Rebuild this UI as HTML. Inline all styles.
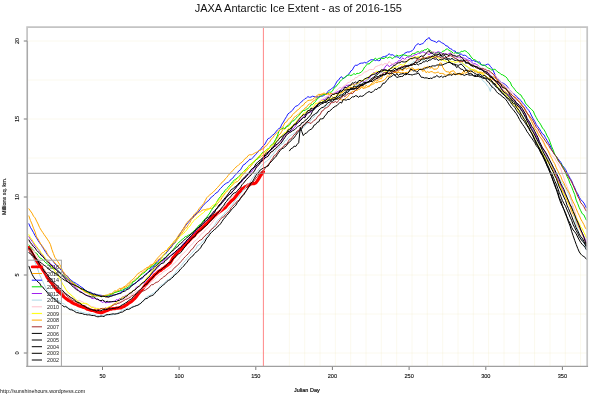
<!DOCTYPE html>
<html lang="en"><head><meta charset="utf-8"><title>JAXA Antarctic Ice Extent</title>
<style>html,body{margin:0;padding:0;background:#fff;}body{width:601px;height:400px;overflow:hidden;font-family:"Liberation Sans",sans-serif;}svg text{font-family:"Liberation Sans",sans-serif;}</style>
</head><body>
<svg width="601" height="400" viewBox="0 0 601 400" style="display:block">
<rect width="601" height="400" fill="#fff"/>
<path d="M289.4,26.5 V366.3 M304.7,26.5 V366.3 M320.0,26.5 V366.3 M335.4,26.5 V366.3 M350.7,26.5 V366.3 M366.0,26.5 V366.3 M381.3,26.5 V366.3 M396.7,26.5 V366.3 M412.0,26.5 V366.3 M427.3,26.5 V366.3 M442.7,26.5 V366.3 M458.0,26.5 V366.3 M473.3,26.5 V366.3 M488.6,26.5 V366.3 M504.0,26.5 V366.3 M519.3,26.5 V366.3 M534.6,26.5 V366.3 M550.0,26.5 V366.3 M565.3,26.5 V366.3 M580.6,26.5 V366.3 M27.5,353.0 H587.2 M27.5,314.0 H587.2 M27.5,275.0 H587.2 M27.5,236.0 H587.2 M27.5,197.0 H587.2 M27.5,158.0 H587.2 M27.5,119.0 H587.2 M27.5,80.0 H587.2 M27.5,41.0 H587.2" fill="none" stroke="#f1ebc4" stroke-width="0.7" stroke-dasharray="1 1" opacity="0.85"/>
<clipPath id="c"><rect x="27.5" y="26.5" width="559.7" height="339.8"/></clipPath>
<g clip-path="url(#c)" fill="none" stroke-linejoin="round" stroke-linecap="round">
<path d="M28.9,247.5 L30.4,250.4 L32.0,253.2 L33.5,255.8 L35.0,258.4 L36.6,261.0 L38.1,263.0 L39.6,265.1 L41.2,267.1 L42.7,269.8 L44.2,271.9 L45.8,274.5 L47.3,277.4 L48.8,279.7 L50.4,281.6 L51.9,283.3 L53.4,285.5 L55.0,287.3 L56.5,289.3 L58.0,291.2 L59.6,292.4 L61.1,293.9 L62.6,295.5 L64.2,297.1 L65.7,298.4 L67.2,299.4 L68.8,300.6 L70.3,301.3 L71.8,302.5 L73.4,303.3 L74.9,304.1 L76.4,304.6 L78.0,305.4 L79.5,305.9 L81.0,306.5 L82.6,307.1 L84.1,307.5 L85.6,308.1 L87.2,309.1 L88.7,309.4 L90.2,310.0 L91.8,310.5 L93.3,310.5 L94.8,311.1 L96.4,311.7 L97.9,312.2 L99.4,312.5 L101.0,312.8 L102.5,312.4 L104.0,311.7 L105.6,311.1 L107.1,310.6 L108.6,309.8 L110.2,308.9 L111.7,309.1 L113.2,308.6 L114.8,308.6 L116.3,308.2 L117.8,308.1 L119.4,307.7 L120.9,307.9 L122.4,306.9 L124.0,306.5 L125.5,305.4 L127.0,304.6 L128.6,303.2 L130.1,302.3 L131.6,301.4 L133.2,299.8 L134.7,298.6 L136.2,296.7 L137.8,294.6 L139.3,292.8 L140.8,291.0 L142.4,289.1 L143.9,287.0 L145.4,284.8 L147.0,283.1 L148.5,281.3 L150.0,279.6 L151.6,278.2 L153.1,276.8 L154.6,274.8 L156.2,273.7 L157.7,272.3 L159.2,271.1 L160.8,270.3 L162.3,268.9 L163.8,268.1 L165.4,266.6 L166.9,265.7 L168.4,264.4 L170.0,263.1 L171.5,260.6 L173.0,257.9 L174.6,256.0 L176.1,254.0 L177.6,252.1 L179.1,250.8 L180.7,249.5 L182.2,248.2 L183.7,246.3 L185.3,244.8 L186.8,242.9 L188.3,241.7 L189.9,239.8 L191.4,238.2 L192.9,236.9 L194.5,235.5 L196.0,233.4 L197.5,232.0 L199.1,230.6 L200.6,229.2 L202.1,228.0 L203.7,226.3 L205.2,224.8 L206.7,223.5 L208.3,221.7 L209.8,220.3 L211.3,218.5 L212.9,217.0 L214.4,215.5 L215.9,214.9 L217.5,213.3 L219.0,212.3 L220.5,211.1 L222.1,210.0 L223.6,208.8 L225.1,207.7 L226.7,205.7 L228.2,204.0 L229.7,202.6 L231.3,200.9 L232.8,199.8 L234.3,198.3 L235.9,196.2 L237.4,194.3 L238.9,192.5 L240.5,191.0 L242.0,188.7 L243.5,188.2 L245.1,186.8 L246.6,186.3 L248.1,185.1 L249.7,184.6 L251.2,183.8 L252.7,183.4 L254.3,183.6 L255.8,182.9 L257.3,180.9 L258.9,178.4 L260.4,175.7 L261.9,173.7 L263.4,171.8" stroke="#ff0000" stroke-width="3.2"/>
<path d="M28.9,208.8 L30.4,211.0 L32.0,213.1 L33.5,216.2 L35.0,217.8 L36.6,221.1 L38.1,224.0 L39.6,227.5 L41.2,230.2 L42.7,232.4 L44.2,234.7 L45.8,236.9 L47.3,239.1 L48.8,241.4 L50.4,244.4 L51.9,249.5 L53.4,253.5 L55.0,257.6 L56.5,259.5 L58.0,261.9 L59.6,264.4 L61.1,267.0 L62.6,271.6 L64.2,275.1 L65.7,278.3 L67.2,279.4 L68.8,281.4 L70.3,282.6 L71.8,283.0 L73.4,284.5 L74.9,285.6 L76.4,286.7 L78.0,287.0 L79.5,287.7 L81.0,288.1 L82.6,289.9 L84.1,291.0 L85.6,291.4 L87.2,292.2 L88.7,292.6 L90.2,293.9 L91.8,295.0 L93.3,294.7 L94.8,295.3 L96.4,295.5 L97.9,295.3 L99.4,296.1 L101.0,295.3 L102.5,295.8 L104.0,296.3 L105.6,296.9 L107.1,296.9 L108.6,296.6 L110.2,295.5 L111.7,294.5 L113.2,293.9 L114.8,292.6 L116.3,291.6 L117.8,290.9 L119.4,290.4 L120.9,289.2 L122.4,288.6 L124.0,287.5 L125.5,287.1 L127.0,286.1 L128.6,285.4 L130.1,283.1 L131.6,282.2 L133.2,281.5 L134.7,279.9 L136.2,278.4 L137.8,277.6 L139.3,275.5 L140.8,274.0 L142.4,272.6 L143.9,271.8 L145.4,270.5 L147.0,268.6 L148.5,267.4 L150.0,266.7 L151.6,265.5 L153.1,264.0 L154.6,263.2 L156.2,261.9 L157.7,259.8 L159.2,259.0 L160.8,257.9 L162.3,256.3 L163.8,254.4 L165.4,253.6 L166.9,252.3 L168.4,250.7 L170.0,247.7 L171.5,247.4 L173.0,244.5 L174.6,243.3 L176.1,241.5 L177.6,239.3 L179.1,237.0 L180.7,234.6 L182.2,233.1 L183.7,230.7 L185.3,228.0 L186.8,227.5 L188.3,224.6 L189.9,222.6 L191.4,219.5 L192.9,218.1 L194.5,216.3 L196.0,214.9 L197.5,213.4 L199.1,212.1 L200.6,211.7 L202.1,210.3 L203.7,209.8 L205.2,209.8 L206.7,209.1 L208.3,208.9 L209.8,208.4 L211.3,208.5 L212.9,207.7 L214.4,206.4 L215.9,205.8 L217.5,203.5 L219.0,201.7 L220.5,200.2 L222.1,197.4 L223.6,195.5 L225.1,193.1 L226.7,191.6 L228.2,190.3 L229.7,187.8 L231.3,186.5 L232.8,184.6 L234.3,183.2 L235.9,182.0 L237.4,181.6 L238.9,180.3 L240.5,177.8 L242.0,175.5 L243.5,174.2 L245.1,172.1 L246.6,170.8 L248.1,168.9 L249.7,167.3 L251.2,165.8 L252.7,163.6 L254.3,161.9 L255.8,159.9 L257.3,159.0 L258.9,157.6 L260.4,157.1 L261.9,155.9 L263.5,155.3 L265.0,154.0 L266.5,151.6 L268.1,149.9 L269.6,147.8 L271.1,146.4 L272.7,144.6 L274.2,142.1 L275.7,139.6 L277.3,138.3 L278.8,134.9 L280.3,134.0 L281.9,131.2 L283.4,128.6 L284.9,129.2 L286.5,127.3 L288.0,124.6 L289.5,123.4 L291.1,121.5 L292.6,119.8 L294.1,117.4 L295.7,116.3 L297.2,115.3 L298.7,113.8 L300.3,112.7 L301.8,110.9 L303.3,110.6 L304.9,108.1 L306.4,107.5 L307.9,105.2 L309.5,104.0 L311.0,103.8 L312.5,101.4 L314.1,100.8 L315.6,99.2 L317.1,97.2 L318.7,96.0 L320.2,94.6 L321.7,94.0 L323.3,94.3 L324.8,94.3 L326.3,93.9 L327.9,93.9 L329.4,94.9 L330.9,95.3 L332.4,96.8 L334.0,98.5 L335.5,98.3 L337.0,98.4 L338.6,98.7 L340.1,99.2 L341.6,100.0 L343.2,100.0 L344.7,99.2 L346.2,97.7 L347.8,96.7 L349.3,94.5 L350.8,93.2 L352.4,91.2 L353.9,91.6 L355.4,90.1 L357.0,90.4 L358.5,89.4 L360.0,89.1 L361.6,87.2 L363.1,86.8 L364.6,87.3 L366.2,85.1 L367.7,86.7 L369.2,86.7 L370.8,85.1 L372.3,84.4 L373.8,83.9 L375.4,82.3 L376.9,82.7 L378.4,81.8 L380.0,81.7 L381.5,81.3 L383.0,80.7 L384.6,79.6 L386.1,78.3 L387.6,75.7 L389.2,76.5 L390.7,74.9 L392.2,73.7 L393.8,72.5 L395.3,72.5 L396.8,72.5 L398.4,71.7 L399.9,69.5 L401.4,70.0 L403.0,70.9 L404.5,67.8 L406.0,69.3 L407.6,68.4 L409.1,67.7 L410.6,68.7 L412.2,67.7 L413.7,69.1 L415.2,70.2 L416.8,69.3 L418.3,69.3 L419.8,69.6 L421.4,69.1 L422.9,69.5 L424.4,67.1 L426.0,67.7 L427.5,66.4 L429.0,67.9 L430.6,68.1 L432.1,67.3 L433.6,69.3 L435.2,69.1 L436.7,69.1 L438.2,67.5 L439.8,63.0 L441.3,63.0 L442.8,67.4 L444.4,69.8 L445.9,71.6 L447.4,71.8 L449.0,72.0 L450.5,73.1 L452.0,74.3 L453.6,74.4 L455.1,74.1 L456.6,74.3 L458.2,74.0 L459.7,73.2 L461.2,73.9 L462.8,72.1 L464.3,70.8 L465.8,70.6 L467.4,70.8 L468.9,70.3 L470.4,69.6 L472.0,69.3 L473.5,70.2 L475.0,70.2 L476.6,71.3 L478.1,72.9 L479.6,72.5 L481.2,73.3 L482.7,74.3 L484.2,75.1 L485.8,76.0 L487.3,78.1 L488.8,78.2 L490.3,78.3 L491.9,79.3 L493.4,80.0 L494.9,80.9 L496.5,83.2 L498.0,84.8 L499.5,85.7 L501.1,88.1 L502.6,89.5 L504.1,90.9 L505.7,91.7 L507.2,93.7 L508.7,95.4 L510.3,97.4 L511.8,98.9 L513.3,101.7 L514.9,103.0 L516.4,105.2 L517.9,107.5 L519.5,108.2 L521.0,110.0 L522.5,112.8 L524.1,114.7 L525.6,117.6 L527.1,120.7 L528.7,124.0 L530.2,125.8 L531.7,129.5 L533.3,132.8 L534.8,136.2 L536.3,139.3 L537.9,142.0 L539.4,144.8 L540.9,146.6 L542.5,149.4 L544.0,152.2 L545.5,154.6 L547.1,157.8 L548.6,161.1 L550.1,163.5 L551.7,166.1 L553.2,169.4 L554.7,172.4 L556.3,176.4 L557.8,180.3 L559.3,183.4 L560.9,187.2 L562.4,191.0 L563.9,193.6 L565.5,197.1 L567.0,200.0 L568.5,203.4 L570.1,206.9 L571.6,211.4 L573.1,214.1 L574.7,217.6 L576.2,221.1 L577.7,224.6 L579.3,228.2 L580.8,231.3 L582.3,234.9 L583.9,237.3 L585.4,241.1 L586.3,243.0" stroke="#ffa500" stroke-width="1.0"/>
<path d="M28.9,223.8 L30.4,227.3 L32.0,229.9 L33.5,232.6 L35.0,235.6 L36.6,238.0 L38.1,240.7 L39.6,242.9 L41.2,244.9 L42.7,247.4 L44.2,249.8 L45.8,252.3 L47.3,254.6 L48.8,256.4 L50.4,257.9 L51.9,260.1 L53.4,261.5 L55.0,263.9 L56.5,265.4 L58.0,266.3 L59.6,268.5 L61.1,270.2 L62.6,271.5 L64.2,273.7 L65.7,275.3 L67.2,275.8 L68.8,278.1 L70.3,279.4 L71.8,280.7 L73.4,282.0 L74.9,282.6 L76.4,283.7 L78.0,284.7 L79.5,285.7 L81.0,287.0 L82.6,287.7 L84.1,289.1 L85.6,290.7 L87.2,291.4 L88.7,292.3 L90.2,292.1 L91.8,293.1 L93.3,293.7 L94.8,294.3 L96.4,294.4 L97.9,295.2 L99.4,295.1 L101.0,295.3 L102.5,295.6 L104.0,296.1 L105.6,296.0 L107.1,296.7 L108.6,296.3 L110.2,295.9 L111.7,295.4 L113.2,295.1 L114.8,294.9 L116.3,294.5 L117.8,293.8 L119.4,293.2 L120.9,292.0 L122.4,291.5 L124.0,290.3 L125.5,288.9 L127.0,289.3 L128.6,288.0 L130.1,286.5 L131.6,285.6 L133.2,284.1 L134.7,283.9 L136.2,282.5 L137.8,280.9 L139.3,280.6 L140.8,279.1 L142.4,278.4 L143.9,276.0 L145.4,274.2 L147.0,273.5 L148.5,271.7 L150.0,270.0 L151.6,267.6 L153.1,266.8 L154.6,265.6 L156.2,262.8 L157.7,262.1 L159.2,259.8 L160.8,259.1 L162.3,256.9 L163.8,255.1 L165.4,254.0 L166.9,252.0 L168.4,249.9 L170.0,248.5 L171.5,246.3 L173.0,243.9 L174.6,243.1 L176.1,240.1 L177.6,237.7 L179.1,235.7 L180.7,232.7 L182.2,230.4 L183.7,228.3 L185.3,226.0 L186.8,224.0 L188.3,222.4 L189.9,220.1 L191.4,218.8 L192.9,217.3 L194.5,215.2 L196.0,214.1 L197.5,212.0 L199.1,211.0 L200.6,208.9 L202.1,206.9 L203.7,204.7 L205.2,203.6 L206.7,201.8 L208.3,200.8 L209.8,199.0 L211.3,197.1 L212.9,196.1 L214.4,194.6 L215.9,193.0 L217.5,192.3 L219.0,190.2 L220.5,188.4 L222.1,186.9 L223.6,185.1 L225.1,184.0 L226.7,183.0 L228.2,182.4 L229.7,181.1 L231.3,179.0 L232.8,178.2 L234.3,176.0 L235.9,174.4 L237.4,172.8 L238.9,170.8 L240.5,169.8 L242.0,167.1 L243.5,164.7 L245.1,164.1 L246.6,162.2 L248.1,161.3 L249.7,159.2 L251.2,159.4 L252.7,157.8 L254.3,156.0 L255.8,154.3 L257.3,152.9 L258.9,150.6 L260.4,149.5 L261.9,147.2 L263.5,145.7 L265.0,144.0 L266.5,141.1 L268.1,138.6 L269.6,138.0 L271.1,136.6 L272.7,135.1 L274.2,134.1 L275.7,132.1 L277.3,130.0 L278.8,128.6 L280.3,127.9 L281.9,124.1 L283.4,122.0 L284.9,119.2 L286.5,116.7 L288.0,113.9 L289.5,112.7 L291.1,111.5 L292.6,110.2 L294.1,107.9 L295.7,106.2 L297.2,105.8 L298.7,104.6 L300.3,103.1 L301.8,101.3 L303.3,100.3 L304.9,98.7 L306.4,98.0 L307.9,96.6 L309.5,97.3 L311.0,97.1 L312.5,96.2 L314.1,96.6 L315.6,96.9 L317.1,96.9 L318.7,97.2 L320.2,96.1 L321.7,96.3 L323.3,95.8 L324.8,94.7 L326.3,93.9 L327.9,91.5 L329.4,90.0 L330.9,89.5 L332.4,87.9 L334.0,87.0 L335.5,84.2 L337.0,81.2 L338.6,80.1 L340.1,77.7 L341.6,76.7 L343.2,78.9 L344.7,77.3 L346.2,76.4 L347.8,74.7 L349.3,73.6 L350.8,71.0 L352.4,69.9 L353.9,67.0 L355.4,65.1 L357.0,65.4 L358.5,64.4 L360.0,63.4 L361.6,63.1 L363.1,63.1 L364.6,62.3 L366.2,63.1 L367.7,61.8 L369.2,60.8 L370.8,59.8 L372.3,59.7 L373.8,59.7 L375.4,60.6 L376.9,59.9 L378.4,60.7 L380.0,60.5 L381.5,57.5 L383.0,56.8 L384.6,56.6 L386.1,56.0 L387.6,55.3 L389.2,53.6 L390.7,55.2 L392.2,54.6 L393.8,55.5 L395.3,56.9 L396.8,56.7 L398.4,57.4 L399.9,58.7 L401.4,56.4 L403.0,55.4 L404.5,53.3 L406.0,52.6 L407.6,51.9 L409.1,52.1 L410.6,51.4 L412.2,50.7 L413.7,49.1 L415.2,46.3 L416.8,44.4 L418.3,43.7 L419.8,44.7 L421.4,44.0 L422.9,43.5 L424.4,42.1 L426.0,39.7 L427.5,39.1 L429.0,37.4 L430.6,40.0 L432.1,40.5 L433.6,41.1 L435.2,41.6 L436.7,42.7 L438.2,40.9 L439.8,41.3 L441.3,42.5 L442.8,43.3 L444.4,44.1 L445.9,45.9 L447.4,45.9 L449.0,48.0 L450.5,48.7 L452.0,49.4 L453.6,51.1 L455.1,50.9 L456.6,53.3 L458.2,52.5 L459.7,54.7 L461.2,53.7 L462.8,55.5 L464.3,55.2 L465.8,55.6 L467.4,57.1 L468.9,58.4 L470.4,58.6 L472.0,61.0 L473.5,60.5 L475.0,61.3 L476.6,61.7 L478.1,62.2 L479.6,61.8 L481.2,64.8 L482.7,65.3 L484.2,65.4 L485.8,65.0 L487.3,64.2 L488.8,64.3 L490.3,66.3 L491.9,68.2 L493.4,71.0 L494.9,74.4 L496.5,78.0 L498.0,78.9 L499.5,80.3 L501.1,82.3 L502.6,82.9 L504.1,83.7 L505.7,84.9 L507.2,86.3 L508.7,88.5 L510.3,90.5 L511.8,91.9 L513.3,93.3 L514.9,94.7 L516.4,96.2 L517.9,97.9 L519.5,99.2 L521.0,100.5 L522.5,102.9 L524.1,104.5 L525.6,106.4 L527.1,108.5 L528.7,110.3 L530.2,112.8 L531.7,116.0 L533.3,118.9 L534.8,121.4 L536.3,124.5 L537.9,126.8 L539.4,128.7 L540.9,131.3 L542.5,133.9 L544.0,134.9 L545.5,137.8 L547.1,140.4 L548.6,143.2 L550.1,145.4 L551.7,149.7 L553.2,152.0 L554.7,154.4 L556.3,156.5 L557.8,158.6 L559.3,160.3 L560.9,162.5 L562.4,165.5 L563.9,167.2 L565.5,169.4 L567.0,172.6 L568.5,175.3 L570.1,178.3 L571.6,180.6 L573.1,184.6 L574.7,187.7 L576.2,191.5 L577.7,193.7 L579.3,197.3 L580.8,199.6 L582.3,201.1 L583.9,203.0 L585.4,205.8 L586.3,207.7" stroke="#1a1aff" stroke-width="1.0"/>
<path d="M28.9,245.2 L30.4,246.7 L32.0,248.6 L33.5,250.1 L35.0,252.5 L36.6,253.2 L38.1,255.4 L39.6,257.8 L41.2,258.4 L42.7,259.5 L44.2,261.2 L45.8,262.8 L47.3,263.7 L48.8,265.2 L50.4,266.3 L51.9,267.2 L53.4,269.1 L55.0,268.8 L56.5,269.5 L58.0,270.5 L59.6,271.9 L61.1,273.2 L62.6,274.7 L64.2,276.0 L65.7,276.9 L67.2,278.9 L68.8,279.9 L70.3,281.0 L71.8,281.6 L73.4,283.0 L74.9,284.2 L76.4,285.7 L78.0,286.6 L79.5,288.0 L81.0,288.8 L82.6,289.2 L84.1,290.2 L85.6,291.1 L87.2,292.7 L88.7,292.6 L90.2,294.2 L91.8,294.5 L93.3,295.4 L94.8,296.0 L96.4,295.6 L97.9,295.9 L99.4,295.8 L101.0,296.8 L102.5,296.5 L104.0,296.5 L105.6,295.5 L107.1,295.3 L108.6,295.6 L110.2,294.6 L111.7,293.9 L113.2,293.4 L114.8,292.2 L116.3,292.3 L117.8,291.6 L119.4,291.3 L120.9,290.4 L122.4,290.2 L124.0,289.0 L125.5,288.6 L127.0,287.8 L128.6,286.7 L130.1,285.5 L131.6,284.2 L133.2,281.6 L134.7,281.2 L136.2,279.4 L137.8,278.3 L139.3,276.9 L140.8,275.1 L142.4,273.9 L143.9,272.9 L145.4,271.8 L147.0,270.0 L148.5,268.7 L150.0,268.2 L151.6,266.1 L153.1,265.9 L154.6,264.2 L156.2,263.2 L157.7,263.2 L159.2,262.7 L160.8,260.7 L162.3,260.5 L163.8,258.5 L165.4,257.8 L166.9,255.9 L168.4,254.1 L170.0,253.2 L171.5,251.4 L173.0,249.7 L174.6,247.6 L176.1,245.5 L177.6,243.6 L179.1,242.1 L180.7,240.8 L182.2,239.4 L183.7,238.4 L185.3,236.5 L186.8,236.3 L188.3,235.1 L189.9,234.8 L191.4,233.2 L192.9,231.7 L194.5,230.8 L196.0,228.7 L197.5,227.2 L199.1,225.1 L200.6,224.5 L202.1,222.5 L203.7,220.2 L205.2,218.8 L206.7,217.2 L208.3,215.1 L209.8,213.0 L211.3,210.3 L212.9,208.1 L214.4,205.9 L215.9,203.7 L217.5,200.7 L219.0,198.2 L220.5,196.8 L222.1,193.9 L223.6,192.5 L225.1,190.3 L226.7,188.7 L228.2,187.3 L229.7,185.2 L231.3,183.6 L232.8,181.5 L234.3,180.1 L235.9,179.1 L237.4,177.9 L238.9,176.4 L240.5,175.2 L242.0,173.0 L243.5,171.5 L245.1,170.3 L246.6,168.5 L248.1,166.9 L249.7,165.0 L251.2,164.4 L252.7,162.5 L254.3,161.8 L255.8,159.7 L257.3,159.1 L258.9,156.5 L260.4,155.6 L261.9,153.1 L263.5,152.1 L265.0,151.4 L266.5,149.5 L268.1,148.8 L269.6,147.4 L271.1,145.1 L272.7,144.3 L274.2,142.4 L275.7,139.3 L277.3,136.0 L278.8,131.5 L280.3,129.5 L281.9,128.8 L283.4,127.8 L284.9,128.6 L286.5,126.2 L288.0,126.2 L289.5,125.1 L291.1,122.3 L292.6,121.1 L294.1,120.6 L295.7,118.5 L297.2,117.1 L298.7,115.8 L300.3,113.7 L301.8,112.2 L303.3,110.3 L304.9,110.7 L306.4,109.1 L307.9,108.6 L309.5,107.1 L311.0,104.8 L312.5,104.7 L314.1,102.8 L315.6,101.3 L317.1,98.9 L318.7,97.9 L320.2,96.4 L321.7,95.4 L323.3,94.4 L324.8,94.8 L326.3,94.1 L327.9,93.3 L329.4,92.1 L330.9,92.3 L332.4,91.1 L334.0,88.1 L335.5,87.1 L337.0,85.1 L338.6,83.7 L340.1,81.3 L341.6,79.8 L343.2,78.3 L344.7,77.8 L346.2,76.2 L347.8,75.3 L349.3,74.9 L350.8,75.6 L352.4,74.8 L353.9,73.6 L355.4,74.5 L357.0,73.3 L358.5,73.5 L360.0,72.8 L361.6,71.8 L363.1,69.9 L364.6,67.0 L366.2,65.6 L367.7,63.6 L369.2,64.1 L370.8,62.0 L372.3,61.4 L373.8,59.6 L375.4,58.1 L376.9,59.8 L378.4,58.5 L380.0,58.2 L381.5,58.1 L383.0,58.5 L384.6,58.3 L386.1,56.8 L387.6,58.2 L389.2,57.1 L390.7,57.4 L392.2,58.6 L393.8,57.5 L395.3,56.3 L396.8,55.1 L398.4,56.0 L399.9,55.8 L401.4,55.2 L403.0,54.6 L404.5,55.2 L406.0,55.3 L407.6,56.1 L409.1,56.0 L410.6,55.6 L412.2,53.8 L413.7,53.6 L415.2,53.2 L416.8,52.0 L418.3,51.6 L419.8,52.5 L421.4,51.0 L422.9,51.0 L424.4,49.8 L426.0,49.8 L427.5,48.5 L429.0,49.6 L430.6,50.8 L432.1,52.1 L433.6,52.5 L435.2,52.8 L436.7,52.7 L438.2,52.4 L439.8,52.5 L441.3,52.6 L442.8,51.1 L444.4,51.0 L445.9,49.2 L447.4,48.9 L449.0,50.4 L450.5,51.1 L452.0,52.0 L453.6,53.6 L455.1,52.7 L456.6,52.9 L458.2,53.3 L459.7,52.9 L461.2,51.2 L462.8,51.5 L464.3,50.7 L465.8,51.0 L467.4,52.6 L468.9,53.6 L470.4,56.0 L472.0,58.0 L473.5,59.5 L475.0,59.9 L476.6,60.9 L478.1,62.6 L479.6,63.8 L481.2,64.3 L482.7,65.2 L484.2,65.1 L485.8,66.1 L487.3,67.5 L488.8,68.3 L490.3,68.9 L491.9,70.2 L493.4,69.4 L494.9,69.3 L496.5,70.6 L498.0,72.3 L499.5,72.8 L501.1,74.5 L502.6,74.8 L504.1,75.8 L505.7,76.7 L507.2,78.3 L508.7,81.0 L510.3,82.2 L511.8,86.1 L513.3,87.4 L514.9,89.7 L516.4,91.6 L517.9,92.8 L519.5,94.2 L521.0,95.1 L522.5,97.9 L524.1,99.7 L525.6,103.6 L527.1,104.7 L528.7,106.9 L530.2,108.1 L531.7,109.7 L533.3,111.1 L534.8,114.9 L536.3,117.6 L537.9,120.6 L539.4,122.5 L540.9,124.9 L542.5,128.0 L544.0,129.7 L545.5,132.3 L547.1,136.0 L548.6,138.3 L550.1,142.2 L551.7,146.8 L553.2,150.1 L554.7,154.3 L556.3,156.7 L557.8,160.0 L559.3,162.1 L560.9,163.5 L562.4,166.0 L563.9,168.8 L565.5,172.5 L567.0,176.4 L568.5,179.2 L570.1,183.7 L571.6,186.7 L573.1,190.7 L574.7,194.5 L576.2,200.1 L577.7,203.6 L579.3,207.8 L580.8,210.8 L582.3,213.8 L583.9,214.9 L585.4,218.3 L586.3,220.0" stroke="#00e000" stroke-width="1.0"/>
<path d="M28.9,236.7 L30.4,239.1 L32.0,241.1 L33.5,243.3 L35.0,246.0 L36.6,247.8 L38.1,249.2 L39.6,251.2 L41.2,253.5 L42.7,255.8 L44.2,257.0 L45.8,259.0 L47.3,259.9 L48.8,261.6 L50.4,263.5 L51.9,265.1 L53.4,265.9 L55.0,267.5 L56.5,269.6 L58.0,270.7 L59.6,272.1 L61.1,273.8 L62.6,275.1 L64.2,276.7 L65.7,278.0 L67.2,278.9 L68.8,280.6 L70.3,282.2 L71.8,283.4 L73.4,285.2 L74.9,287.5 L76.4,288.0 L78.0,290.1 L79.5,290.9 L81.0,291.7 L82.6,292.9 L84.1,293.8 L85.6,295.1 L87.2,295.5 L88.7,296.4 L90.2,297.2 L91.8,298.4 L93.3,298.6 L94.8,298.4 L96.4,299.1 L97.9,299.5 L99.4,300.5 L101.0,301.2 L102.5,302.5 L104.0,301.5 L105.6,302.7 L107.1,302.6 L108.6,302.2 L110.2,302.2 L111.7,301.7 L113.2,301.4 L114.8,301.1 L116.3,299.6 L117.8,300.0 L119.4,298.7 L120.9,298.5 L122.4,297.2 L124.0,296.7 L125.5,295.7 L127.0,295.2 L128.6,294.0 L130.1,292.7 L131.6,292.1 L133.2,290.8 L134.7,290.0 L136.2,287.4 L137.8,286.7 L139.3,285.9 L140.8,283.9 L142.4,283.1 L143.9,282.8 L145.4,281.4 L147.0,279.0 L148.5,278.1 L150.0,276.2 L151.6,274.3 L153.1,272.6 L154.6,271.1 L156.2,269.2 L157.7,267.6 L159.2,266.0 L160.8,263.9 L162.3,262.6 L163.8,260.3 L165.4,258.5 L166.9,258.2 L168.4,257.4 L170.0,256.2 L171.5,254.8 L173.0,253.2 L174.6,252.8 L176.1,250.9 L177.6,250.2 L179.1,248.5 L180.7,246.7 L182.2,245.9 L183.7,242.9 L185.3,242.0 L186.8,240.9 L188.3,239.1 L189.9,237.8 L191.4,235.7 L192.9,233.8 L194.5,233.1 L196.0,230.7 L197.5,229.2 L199.1,227.4 L200.6,226.0 L202.1,224.8 L203.7,223.3 L205.2,221.7 L206.7,220.2 L208.3,219.3 L209.8,216.7 L211.3,215.2 L212.9,213.1 L214.4,211.0 L215.9,209.6 L217.5,207.7 L219.0,205.9 L220.5,205.0 L222.1,202.7 L223.6,201.0 L225.1,198.7 L226.7,197.3 L228.2,195.6 L229.7,194.3 L231.3,193.3 L232.8,190.9 L234.3,189.8 L235.9,188.2 L237.4,185.3 L238.9,184.3 L240.5,183.0 L242.0,181.4 L243.5,179.1 L245.1,178.0 L246.6,176.4 L248.1,174.2 L249.7,173.5 L251.2,172.2 L252.7,170.0 L254.3,167.7 L255.8,167.0 L257.3,164.8 L258.9,163.3 L260.4,162.1 L261.9,160.0 L263.5,158.6 L265.0,156.6 L266.5,155.1 L268.1,153.4 L269.6,151.3 L271.1,150.0 L272.7,148.6 L274.2,146.3 L275.7,146.4 L277.3,143.9 L278.8,142.8 L280.3,142.4 L281.9,140.7 L283.4,138.3 L284.9,136.1 L286.5,134.5 L288.0,133.2 L289.5,132.0 L291.1,130.5 L292.6,129.5 L294.1,127.9 L295.7,126.0 L297.2,122.2 L298.7,121.5 L300.3,119.8 L301.8,118.5 L303.3,117.2 L304.9,116.4 L306.4,115.1 L307.9,113.5 L309.5,112.2 L311.0,111.9 L312.5,109.6 L314.1,108.8 L315.6,108.0 L317.1,105.5 L318.7,102.3 L320.2,101.8 L321.7,100.1 L323.3,99.5 L324.8,99.5 L326.3,98.3 L327.9,96.6 L329.4,95.8 L330.9,94.5 L332.4,93.6 L334.0,93.3 L335.5,92.8 L337.0,92.0 L338.6,91.3 L340.1,90.8 L341.6,88.9 L343.2,87.1 L344.7,87.2 L346.2,85.5 L347.8,85.3 L349.3,85.0 L350.8,84.9 L352.4,84.6 L353.9,84.6 L355.4,83.9 L357.0,84.4 L358.5,82.7 L360.0,83.1 L361.6,80.6 L363.1,80.9 L364.6,81.9 L366.2,80.5 L367.7,79.2 L369.2,78.4 L370.8,75.8 L372.3,74.9 L373.8,72.4 L375.4,72.9 L376.9,72.5 L378.4,72.9 L380.0,72.4 L381.5,70.2 L383.0,70.5 L384.6,67.7 L386.1,65.6 L387.6,64.7 L389.2,66.8 L390.7,65.4 L392.2,64.7 L393.8,64.0 L395.3,62.7 L396.8,62.9 L398.4,60.7 L399.9,61.0 L401.4,59.4 L403.0,57.8 L404.5,59.6 L406.0,57.8 L407.6,56.9 L409.1,57.3 L410.6,55.8 L412.2,56.5 L413.7,55.4 L415.2,54.5 L416.8,54.6 L418.3,53.1 L419.8,53.5 L421.4,52.6 L422.9,51.7 L424.4,52.5 L426.0,53.4 L427.5,53.6 L429.0,54.6 L430.6,53.5 L432.1,53.6 L433.6,52.2 L435.2,52.5 L436.7,52.4 L438.2,51.6 L439.8,52.3 L441.3,53.0 L442.8,54.4 L444.4,53.6 L445.9,53.9 L447.4,54.4 L449.0,53.7 L450.5,52.7 L452.0,54.3 L453.6,55.6 L455.1,55.6 L456.6,57.3 L458.2,57.6 L459.7,57.7 L461.2,57.5 L462.8,57.7 L464.3,58.2 L465.8,58.9 L467.4,59.7 L468.9,60.4 L470.4,61.0 L472.0,62.5 L473.5,63.8 L475.0,63.6 L476.6,64.6 L478.1,65.3 L479.6,66.7 L481.2,68.1 L482.7,69.6 L484.2,70.5 L485.8,72.2 L487.3,72.9 L488.8,73.1 L490.3,75.4 L491.9,76.4 L493.4,79.6 L494.9,80.1 L496.5,81.6 L498.0,83.3 L499.5,85.0 L501.1,87.3 L502.6,90.4 L504.1,91.6 L505.7,93.2 L507.2,94.3 L508.7,94.2 L510.3,96.6 L511.8,97.4 L513.3,99.0 L514.9,100.0 L516.4,102.8 L517.9,104.6 L519.5,106.0 L521.0,109.0 L522.5,110.0 L524.1,111.9 L525.6,115.0 L527.1,118.5 L528.7,121.9 L530.2,124.8 L531.7,128.0 L533.3,130.9 L534.8,132.7 L536.3,136.1 L537.9,139.1 L539.4,142.4 L540.9,145.7 L542.5,147.9 L544.0,149.9 L545.5,152.9 L547.1,156.2 L548.6,158.3 L550.1,161.4 L551.7,164.6 L553.2,167.0 L554.7,171.5 L556.3,174.9 L557.8,178.7 L559.3,181.7 L560.9,185.1 L562.4,188.4 L563.9,191.8 L565.5,194.8 L567.0,198.0 L568.5,201.7 L570.1,204.6 L571.6,207.0 L573.1,210.4 L574.7,214.9 L576.2,217.9 L577.7,222.5 L579.3,226.6 L580.8,229.7 L582.3,233.1 L583.9,236.4 L585.4,239.7 L586.3,242.7" stroke="#a020f0" stroke-width="1.0"/>
<path d="M28.9,248.9 L30.4,251.6 L32.0,255.2 L33.5,258.7 L35.0,262.4 L36.6,266.1 L38.1,270.1 L39.6,274.9 L41.2,278.1 L42.7,281.3 L44.2,284.6 L45.8,287.8 L47.3,291.3 L48.8,293.1 L50.4,294.7 L51.9,294.3 L53.4,296.6 L55.0,298.1 L56.5,299.8 L58.0,300.4 L59.6,300.9 L61.1,302.7 L62.6,303.4 L64.2,304.0 L65.7,305.4 L67.2,307.1 L68.8,308.1 L70.3,308.7 L71.8,308.7 L73.4,310.5 L74.9,309.7 L76.4,310.6 L78.0,310.6 L79.5,312.0 L81.0,312.0 L82.6,312.6 L84.1,312.8 L85.6,313.2 L87.2,313.6 L88.7,313.1 L90.2,314.1 L91.8,314.2 L93.3,314.1 L94.8,314.6 L96.4,315.1 L97.9,315.8 L99.4,315.6 L101.0,315.5 L102.5,315.3 L104.0,315.1 L105.6,315.4 L107.1,315.4 L108.6,315.0 L110.2,314.9 L111.7,315.0 L113.2,314.6 L114.8,314.3 L116.3,313.8 L117.8,312.9 L119.4,312.0 L120.9,311.4 L122.4,309.9 L124.0,310.2 L125.5,308.7 L127.0,308.8 L128.6,307.9 L130.1,307.8 L131.6,307.0 L133.2,306.2 L134.7,306.4 L136.2,305.5 L137.8,304.8 L139.3,303.8 L140.8,303.0 L142.4,301.6 L143.9,300.0 L145.4,297.9 L147.0,296.8 L148.5,295.7 L150.0,295.4 L151.6,294.2 L153.1,293.3 L154.6,292.7 L156.2,290.9 L157.7,289.3 L159.2,287.6 L160.8,285.3 L162.3,284.7 L163.8,283.4 L165.4,281.9 L166.9,280.3 L168.4,279.6 L170.0,278.9 L171.5,277.0 L173.0,275.5 L174.6,274.3 L176.1,271.8 L177.6,269.7 L179.1,268.4 L180.7,266.3 L182.2,264.4 L183.7,262.3 L185.3,260.7 L186.8,258.8 L188.3,257.1 L189.9,255.4 L191.4,253.8 L192.9,252.1 L194.5,250.3 L196.0,248.6 L197.5,245.5 L199.1,244.9 L200.6,243.7 L202.1,242.5 L203.7,240.3 L205.2,239.5 L206.7,236.9 L208.3,234.4 L209.8,232.4 L211.3,230.0 L212.9,227.5 L214.4,225.5 L215.9,222.9 L217.5,220.5 L219.0,219.1 L220.5,217.7 L222.1,215.8 L223.6,215.1 L225.1,212.4 L226.7,211.6 L228.2,209.5 L229.7,207.0 L231.3,205.5 L232.8,204.1 L234.3,201.7 L235.9,199.5 L237.4,198.2 L238.9,196.9 L240.5,193.5 L242.0,192.3 L243.5,190.1 L245.1,188.1 L246.6,186.0 L248.1,184.1 L249.7,182.7 L251.2,180.3 L252.7,177.4 L254.3,176.2 L255.8,172.8 L257.3,171.4 L258.9,169.0 L260.4,167.3 L261.9,165.1 L263.5,163.9 L265.0,162.1 L266.5,161.3 L268.1,159.7 L269.6,158.9 L271.1,155.9 L272.7,154.8 L274.2,152.7 L275.7,150.8 L277.3,149.0 L278.8,148.0 L280.3,145.6 L281.9,144.2 L283.4,143.6 L284.9,140.8 L286.5,140.4 L288.0,137.7 L289.5,136.4 L291.1,135.1 L292.6,134.4 L294.1,133.3 L295.7,132.4 L297.2,131.6 L298.7,131.1 L300.3,130.2 L301.8,129.2 L303.3,127.6 L304.9,126.0 L306.4,123.8 L307.9,123.5 L309.5,122.1 L311.0,119.7 L312.5,118.5 L314.1,116.9 L315.6,114.5 L317.1,113.4 L318.7,111.5 L320.2,108.9 L321.7,108.3 L323.3,107.2 L324.8,107.0 L326.3,105.7 L327.9,105.3 L329.4,104.0 L330.9,103.1 L332.4,101.5 L334.0,100.5 L335.5,98.9 L337.0,97.2 L338.6,96.1 L340.1,95.2 L341.6,94.5 L343.2,94.8 L344.7,91.9 L346.2,92.5 L347.8,91.8 L349.3,91.5 L350.8,89.2 L352.4,89.1 L353.9,88.5 L355.4,86.9 L357.0,85.0 L358.5,85.0 L360.0,83.6 L361.6,84.0 L363.1,82.3 L364.6,83.1 L366.2,81.2 L367.7,79.8 L369.2,79.2 L370.8,78.2 L372.3,78.5 L373.8,78.4 L375.4,76.1 L376.9,75.7 L378.4,73.6 L380.0,73.9 L381.5,75.0 L383.0,72.4 L384.6,73.7 L386.1,73.1 L387.6,70.6 L389.2,70.6 L390.7,70.8 L392.2,72.2 L393.8,71.3 L395.3,71.1 L396.8,70.9 L398.4,69.5 L399.9,68.6 L401.4,67.4 L403.0,67.7 L404.5,65.9 L406.0,67.0 L407.6,65.0 L409.1,64.0 L410.6,64.4 L412.2,63.5 L413.7,61.2 L415.2,61.9 L416.8,60.1 L418.3,59.9 L419.8,60.8 L421.4,59.8 L422.9,60.5 L424.4,59.8 L426.0,60.7 L427.5,58.7 L429.0,57.3 L430.6,56.9 L432.1,56.7 L433.6,57.0 L435.2,56.6 L436.7,57.1 L438.2,56.5 L439.8,56.6 L441.3,57.0 L442.8,57.2 L444.4,58.0 L445.9,58.8 L447.4,59.3 L449.0,58.9 L450.5,58.3 L452.0,58.9 L453.6,59.3 L455.1,57.6 L456.6,59.2 L458.2,60.4 L459.7,60.7 L461.2,61.4 L462.8,64.0 L464.3,64.9 L465.8,65.1 L467.4,67.4 L468.9,68.7 L470.4,68.4 L472.0,71.4 L473.5,69.9 L475.0,70.6 L476.6,71.1 L478.1,73.8 L479.6,75.5 L481.2,78.3 L482.7,80.6 L484.2,81.8 L485.8,83.1 L487.3,85.9 L488.8,87.2 L490.3,91.4 L491.9,85.5 L493.4,83.8 L494.9,84.1 L496.5,85.3 L498.0,86.9 L499.5,88.4 L501.1,90.2 L502.6,91.9 L504.1,92.6 L505.7,93.1 L507.2,94.4 L508.7,95.8 L510.3,97.8 L511.8,99.9 L513.3,101.8 L514.9,103.2 L516.4,105.1 L517.9,105.9 L519.5,107.0 L521.0,110.6 L522.5,112.5 L524.1,115.6 L525.6,118.3 L527.1,121.7 L528.7,123.5 L530.2,126.7 L531.7,129.3 L533.3,132.1 L534.8,135.2 L536.3,139.2 L537.9,142.1 L539.4,144.9 L540.9,147.9 L542.5,149.9 L544.0,152.6 L545.5,155.2 L547.1,157.8 L548.6,160.0 L550.1,162.1 L551.7,165.7 L553.2,166.8 L554.7,170.5 L556.3,173.5 L557.8,176.3 L559.3,178.6 L560.9,181.4 L562.4,183.3 L563.9,185.1 L565.5,187.9 L567.0,190.9 L568.5,194.2 L570.1,198.0 L571.6,201.3 L573.1,209.6 L574.7,217.8 L576.2,224.2 L577.7,229.1 L579.3,233.7 L580.8,237.0 L582.3,240.2 L583.9,243.2 L585.4,247.0 L586.3,250.0" stroke="#add8e6" stroke-width="1.0"/>
<path d="M28.9,240.9 L30.4,243.4 L32.0,246.2 L33.5,249.7 L35.0,252.5 L36.6,255.1 L38.1,258.4 L39.6,261.6 L41.2,264.9 L42.7,266.8 L44.2,270.1 L45.8,273.4 L47.3,275.2 L48.8,277.8 L50.4,278.2 L51.9,281.2 L53.4,282.2 L55.0,283.0 L56.5,285.3 L58.0,286.8 L59.6,288.3 L61.1,289.9 L62.6,290.9 L64.2,292.1 L65.7,293.4 L67.2,294.6 L68.8,295.9 L70.3,296.7 L71.8,297.9 L73.4,299.1 L74.9,299.5 L76.4,300.6 L78.0,300.9 L79.5,300.3 L81.0,301.2 L82.6,301.8 L84.1,302.8 L85.6,304.3 L87.2,304.5 L88.7,305.1 L90.2,305.9 L91.8,306.8 L93.3,306.9 L94.8,307.4 L96.4,308.2 L97.9,308.3 L99.4,308.6 L101.0,308.8 L102.5,308.2 L104.0,308.5 L105.6,308.0 L107.1,308.3 L108.6,307.6 L110.2,306.0 L111.7,305.7 L113.2,303.8 L114.8,303.9 L116.3,303.2 L117.8,302.4 L119.4,301.8 L120.9,301.3 L122.4,300.3 L124.0,298.9 L125.5,298.4 L127.0,296.8 L128.6,296.5 L130.1,295.7 L131.6,294.1 L133.2,293.9 L134.7,292.4 L136.2,291.1 L137.8,291.0 L139.3,290.3 L140.8,289.7 L142.4,288.3 L143.9,288.0 L145.4,287.1 L147.0,285.9 L148.5,284.8 L150.0,283.1 L151.6,281.4 L153.1,280.5 L154.6,279.4 L156.2,277.8 L157.7,276.4 L159.2,274.7 L160.8,274.3 L162.3,273.0 L163.8,271.2 L165.4,270.6 L166.9,269.8 L168.4,268.5 L170.0,267.7 L171.5,266.3 L173.0,264.1 L174.6,263.0 L176.1,261.6 L177.6,260.1 L179.1,258.5 L180.7,255.6 L182.2,254.5 L183.7,253.1 L185.3,251.5 L186.8,250.1 L188.3,247.7 L189.9,246.5 L191.4,244.6 L192.9,243.6 L194.5,241.1 L196.0,240.4 L197.5,238.8 L199.1,237.1 L200.6,234.6 L202.1,233.5 L203.7,232.4 L205.2,230.0 L206.7,228.8 L208.3,227.1 L209.8,225.7 L211.3,223.7 L212.9,221.8 L214.4,219.4 L215.9,217.5 L217.5,215.3 L219.0,213.5 L220.5,211.1 L222.1,209.6 L223.6,206.7 L225.1,205.9 L226.7,203.4 L228.2,201.9 L229.7,199.5 L231.3,198.0 L232.8,196.5 L234.3,194.1 L235.9,192.7 L237.4,191.0 L238.9,189.3 L240.5,186.6 L242.0,185.2 L243.5,183.3 L245.1,181.2 L246.6,179.8 L248.1,177.5 L249.7,177.0 L251.2,174.9 L252.7,173.7 L254.3,170.8 L255.8,168.8 L257.3,167.5 L258.9,164.9 L260.4,163.9 L261.9,161.9 L263.5,160.4 L265.0,159.1 L266.5,157.4 L268.1,156.6 L269.6,154.6 L271.1,152.3 L272.7,151.9 L274.2,149.2 L275.7,148.0 L277.3,145.3 L278.8,143.3 L280.3,142.2 L281.9,139.3 L283.4,137.3 L284.9,135.5 L286.5,133.7 L288.0,132.5 L289.5,129.1 L291.1,127.1 L292.6,126.4 L294.1,124.0 L295.7,123.2 L297.2,122.2 L298.7,119.8 L300.3,118.0 L301.8,116.5 L303.3,115.1 L304.9,113.9 L306.4,113.0 L307.9,112.6 L309.5,111.6 L311.0,109.7 L312.5,108.3 L314.1,107.5 L315.6,104.5 L317.1,103.7 L318.7,102.2 L320.2,100.4 L321.7,99.3 L323.3,99.2 L324.8,97.3 L326.3,96.8 L327.9,96.0 L329.4,95.6 L330.9,93.9 L332.4,94.6 L334.0,92.8 L335.5,91.5 L337.0,90.1 L338.6,88.6 L340.1,87.4 L341.6,88.0 L343.2,86.5 L344.7,85.2 L346.2,84.7 L347.8,82.5 L349.3,82.3 L350.8,81.2 L352.4,79.8 L353.9,79.9 L355.4,77.4 L357.0,77.7 L358.5,75.6 L360.0,75.4 L361.6,74.8 L363.1,73.4 L364.6,72.0 L366.2,71.7 L367.7,70.8 L369.2,69.7 L370.8,69.4 L372.3,69.7 L373.8,69.4 L375.4,66.7 L376.9,66.3 L378.4,65.6 L380.0,65.0 L381.5,64.2 L383.0,65.4 L384.6,63.4 L386.1,63.9 L387.6,63.9 L389.2,61.3 L390.7,63.2 L392.2,63.8 L393.8,64.2 L395.3,63.7 L396.8,64.0 L398.4,62.8 L399.9,62.9 L401.4,62.1 L403.0,60.5 L404.5,59.8 L406.0,59.8 L407.6,59.8 L409.1,59.5 L410.6,59.0 L412.2,58.7 L413.7,57.3 L415.2,56.0 L416.8,58.1 L418.3,58.8 L419.8,56.9 L421.4,56.7 L422.9,56.1 L424.4,55.2 L426.0,53.8 L427.5,53.3 L429.0,51.9 L430.6,52.0 L432.1,51.9 L433.6,51.6 L435.2,53.2 L436.7,53.5 L438.2,54.3 L439.8,53.8 L441.3,55.0 L442.8,54.0 L444.4,55.3 L445.9,53.6 L447.4,54.4 L449.0,55.0 L450.5,53.9 L452.0,54.3 L453.6,53.5 L455.1,56.1 L456.6,56.5 L458.2,57.1 L459.7,58.1 L461.2,58.7 L462.8,60.3 L464.3,60.9 L465.8,61.3 L467.4,63.0 L468.9,64.4 L470.4,64.2 L472.0,63.9 L473.5,65.1 L475.0,65.4 L476.6,66.3 L478.1,65.8 L479.6,66.8 L481.2,68.3 L482.7,68.5 L484.2,69.7 L485.8,71.5 L487.3,71.3 L488.8,72.4 L490.3,72.7 L491.9,73.4 L493.4,74.6 L494.9,75.1 L496.5,76.5 L498.0,79.9 L499.5,80.7 L501.1,82.6 L502.6,83.4 L504.1,84.8 L505.7,86.6 L507.2,88.0 L508.7,88.3 L510.3,90.8 L511.8,91.4 L513.3,94.0 L514.9,96.9 L516.4,97.2 L517.9,99.4 L519.5,100.3 L521.0,102.9 L522.5,105.0 L524.1,107.5 L525.6,109.5 L527.1,112.4 L528.7,116.1 L530.2,118.4 L531.7,121.7 L533.3,125.0 L534.8,127.0 L536.3,129.4 L537.9,132.1 L539.4,135.4 L540.9,138.1 L542.5,141.3 L544.0,144.2 L545.5,148.0 L547.1,149.5 L548.6,151.0 L550.1,153.6 L551.7,155.1 L553.2,156.8 L554.7,158.0 L556.3,161.3 L557.8,163.4 L559.3,166.3 L560.9,169.1 L562.4,174.0 L563.9,178.1 L565.5,182.9 L567.0,186.4 L568.5,190.4 L570.1,195.5 L571.6,200.2 L573.1,206.0 L574.7,210.7 L576.2,216.1 L577.7,221.0 L579.3,225.9 L580.8,230.3 L582.3,234.2 L583.9,238.4 L585.4,242.7 L586.3,246.0" stroke="#ffc0cb" stroke-width="1.0"/>
<path d="M28.9,234.7 L30.4,237.6 L32.0,239.7 L33.5,242.1 L35.0,244.2 L36.6,246.3 L38.1,248.5 L39.6,250.1 L41.2,253.2 L42.7,254.3 L44.2,256.5 L45.8,259.1 L47.3,260.4 L48.8,262.8 L50.4,264.6 L51.9,267.0 L53.4,268.9 L55.0,271.0 L56.5,274.0 L58.0,276.0 L59.6,278.1 L61.1,281.0 L62.6,284.2 L64.2,286.4 L65.7,289.3 L67.2,291.3 L68.8,293.4 L70.3,294.0 L71.8,295.9 L73.4,296.7 L74.9,298.6 L76.4,300.1 L78.0,301.5 L79.5,302.4 L81.0,303.3 L82.6,303.4 L84.1,303.3 L85.6,303.4 L87.2,303.9 L88.7,305.0 L90.2,306.4 L91.8,307.6 L93.3,307.5 L94.8,308.5 L96.4,308.8 L97.9,308.7 L99.4,309.1 L101.0,308.8 L102.5,308.4 L104.0,308.4 L105.6,308.7 L107.1,307.8 L108.6,307.0 L110.2,306.5 L111.7,305.4 L113.2,304.8 L114.8,303.6 L116.3,302.8 L117.8,301.3 L119.4,299.9 L120.9,299.0 L122.4,297.1 L124.0,297.2 L125.5,296.5 L127.0,295.3 L128.6,294.1 L130.1,293.4 L131.6,291.7 L133.2,290.9 L134.7,290.1 L136.2,288.5 L137.8,287.3 L139.3,285.8 L140.8,284.3 L142.4,282.9 L143.9,281.4 L145.4,280.2 L147.0,277.5 L148.5,276.0 L150.0,274.3 L151.6,271.9 L153.1,270.2 L154.6,268.1 L156.2,266.4 L157.7,264.4 L159.2,262.4 L160.8,259.8 L162.3,257.0 L163.8,254.9 L165.4,252.8 L166.9,251.0 L168.4,247.7 L170.0,246.7 L171.5,244.2 L173.0,243.6 L174.6,242.0 L176.1,240.4 L177.6,238.9 L179.1,237.1 L180.7,235.4 L182.2,234.4 L183.7,233.4 L185.3,231.5 L186.8,229.9 L188.3,227.5 L189.9,226.2 L191.4,223.6 L192.9,221.6 L194.5,220.1 L196.0,218.6 L197.5,217.3 L199.1,216.3 L200.6,214.6 L202.1,213.6 L203.7,212.5 L205.2,210.7 L206.7,210.2 L208.3,209.6 L209.8,208.9 L211.3,206.6 L212.9,205.4 L214.4,204.7 L215.9,203.0 L217.5,201.1 L219.0,199.9 L220.5,197.6 L222.1,195.1 L223.6,194.1 L225.1,192.4 L226.7,191.0 L228.2,189.5 L229.7,187.5 L231.3,185.6 L232.8,183.5 L234.3,181.4 L235.9,180.1 L237.4,179.0 L238.9,177.2 L240.5,176.1 L242.0,173.7 L243.5,171.5 L245.1,171.0 L246.6,169.6 L248.1,167.2 L249.7,165.4 L251.2,164.4 L252.7,163.0 L254.3,160.8 L255.8,159.6 L257.3,157.9 L258.9,156.2 L260.4,154.7 L261.9,154.1 L263.5,152.8 L265.0,151.6 L266.5,149.6 L268.1,150.0 L269.6,147.4 L271.1,146.3 L272.7,144.6 L274.2,144.0 L275.7,141.7 L277.3,140.7 L278.8,138.8 L280.3,137.7 L281.9,135.2 L283.4,133.8 L284.9,132.5 L286.5,132.0 L288.0,128.9 L289.5,128.4 L291.1,126.7 L292.6,125.8 L294.1,124.3 L295.7,122.3 L297.2,120.6 L298.7,118.9 L300.3,116.9 L301.8,115.5 L303.3,113.4 L304.9,112.9 L306.4,111.6 L307.9,110.7 L309.5,110.0 L311.0,108.5 L312.5,107.0 L314.1,106.0 L315.6,103.0 L317.1,103.5 L318.7,102.5 L320.2,101.8 L321.7,100.5 L323.3,100.8 L324.8,100.7 L326.3,100.1 L327.9,99.1 L329.4,99.0 L330.9,98.6 L332.4,98.4 L334.0,97.4 L335.5,96.3 L337.0,95.7 L338.6,95.1 L340.1,94.2 L341.6,92.6 L343.2,92.1 L344.7,90.3 L346.2,89.2 L347.8,88.7 L349.3,86.9 L350.8,85.9 L352.4,84.0 L353.9,85.4 L355.4,84.4 L357.0,83.6 L358.5,83.0 L360.0,81.8 L361.6,80.3 L363.1,81.1 L364.6,78.7 L366.2,78.8 L367.7,78.6 L369.2,76.1 L370.8,75.3 L372.3,73.5 L373.8,73.7 L375.4,72.0 L376.9,71.0 L378.4,72.1 L380.0,71.6 L381.5,70.3 L383.0,71.4 L384.6,70.4 L386.1,71.7 L387.6,70.7 L389.2,69.0 L390.7,68.9 L392.2,67.9 L393.8,67.7 L395.3,67.0 L396.8,67.0 L398.4,66.1 L399.9,64.6 L401.4,64.6 L403.0,65.4 L404.5,64.4 L406.0,62.4 L407.6,61.0 L409.1,59.8 L410.6,59.1 L412.2,57.2 L413.7,58.1 L415.2,56.7 L416.8,57.3 L418.3,56.3 L419.8,58.8 L421.4,59.9 L422.9,57.4 L424.4,59.4 L426.0,58.2 L427.5,57.1 L429.0,56.4 L430.6,58.1 L432.1,57.3 L433.6,57.2 L435.2,56.4 L436.7,56.3 L438.2,58.2 L439.8,58.3 L441.3,60.5 L442.8,59.8 L444.4,60.9 L445.9,60.9 L447.4,62.7 L449.0,60.9 L450.5,61.1 L452.0,62.0 L453.6,61.5 L455.1,62.5 L456.6,62.1 L458.2,61.6 L459.7,62.1 L461.2,61.4 L462.8,63.1 L464.3,64.7 L465.8,66.1 L467.4,66.5 L468.9,67.7 L470.4,68.4 L472.0,69.8 L473.5,69.8 L475.0,69.9 L476.6,70.6 L478.1,71.8 L479.6,72.2 L481.2,73.3 L482.7,73.3 L484.2,75.5 L485.8,76.8 L487.3,77.7 L488.8,79.0 L490.3,80.1 L491.9,82.3 L493.4,82.9 L494.9,83.7 L496.5,85.3 L498.0,87.5 L499.5,89.0 L501.1,90.3 L502.6,91.9 L504.1,93.3 L505.7,94.3 L507.2,96.6 L508.7,98.1 L510.3,100.7 L511.8,102.1 L513.3,104.5 L514.9,105.9 L516.4,106.9 L517.9,110.2 L519.5,112.5 L521.0,113.8 L522.5,116.8 L524.1,119.3 L525.6,121.3 L527.1,124.6 L528.7,127.3 L530.2,130.6 L531.7,133.2 L533.3,136.0 L534.8,139.4 L536.3,142.5 L537.9,145.2 L539.4,147.7 L540.9,150.3 L542.5,153.2 L544.0,155.8 L545.5,158.6 L547.1,161.0 L548.6,163.3 L550.1,165.9 L551.7,168.7 L553.2,172.3 L554.7,175.4 L556.3,178.0 L557.8,181.8 L559.3,184.7 L560.9,187.9 L562.4,190.9 L563.9,193.8 L565.5,196.4 L567.0,198.8 L568.5,202.6 L570.1,205.7 L571.6,207.8 L573.1,211.4 L574.7,214.3 L576.2,217.7 L577.7,220.5 L579.3,223.9 L580.8,227.0 L582.3,228.8 L583.9,232.4 L585.4,235.4 L586.3,237.5" stroke="#ffff00" stroke-width="1.0"/>
<path d="M28.9,215.9 L30.4,220.4 L32.0,224.0 L33.5,228.2 L35.0,231.7 L36.6,236.9 L38.1,239.0 L39.6,241.9 L41.2,244.7 L42.7,246.5 L44.2,248.8 L45.8,250.6 L47.3,253.7 L48.8,256.2 L50.4,258.2 L51.9,259.5 L53.4,261.2 L55.0,263.0 L56.5,264.3 L58.0,265.8 L59.6,268.1 L61.1,268.7 L62.6,271.1 L64.2,272.7 L65.7,275.2 L67.2,276.5 L68.8,278.7 L70.3,280.4 L71.8,281.8 L73.4,283.3 L74.9,284.3 L76.4,285.6 L78.0,286.6 L79.5,288.2 L81.0,289.2 L82.6,290.1 L84.1,291.5 L85.6,292.4 L87.2,292.7 L88.7,293.9 L90.2,294.3 L91.8,295.1 L93.3,295.1 L94.8,295.5 L96.4,296.2 L97.9,295.6 L99.4,296.3 L101.0,296.3 L102.5,295.9 L104.0,295.9 L105.6,295.2 L107.1,295.2 L108.6,294.3 L110.2,293.6 L111.7,293.7 L113.2,292.1 L114.8,290.8 L116.3,291.1 L117.8,289.9 L119.4,288.3 L120.9,288.5 L122.4,287.9 L124.0,286.7 L125.5,286.1 L127.0,284.3 L128.6,283.3 L130.1,281.4 L131.6,280.3 L133.2,279.2 L134.7,277.3 L136.2,275.7 L137.8,273.6 L139.3,272.9 L140.8,271.5 L142.4,271.1 L143.9,269.5 L145.4,268.8 L147.0,267.4 L148.5,267.3 L150.0,265.2 L151.6,264.6 L153.1,264.2 L154.6,262.0 L156.2,259.7 L157.7,257.9 L159.2,256.2 L160.8,254.8 L162.3,252.7 L163.8,252.4 L165.4,250.5 L166.9,250.4 L168.4,248.2 L170.0,246.3 L171.5,244.9 L173.0,242.9 L174.6,240.5 L176.1,239.5 L177.6,236.9 L179.1,234.3 L180.7,233.1 L182.2,230.6 L183.7,228.0 L185.3,225.3 L186.8,222.6 L188.3,221.2 L189.9,219.8 L191.4,217.8 L192.9,216.4 L194.5,214.0 L196.0,212.9 L197.5,211.2 L199.1,208.6 L200.6,206.9 L202.1,205.4 L203.7,203.5 L205.2,200.7 L206.7,197.8 L208.3,196.2 L209.8,194.8 L211.3,193.6 L212.9,192.4 L214.4,190.9 L215.9,189.1 L217.5,187.6 L219.0,185.6 L220.5,184.3 L222.1,182.1 L223.6,181.2 L225.1,179.0 L226.7,177.5 L228.2,175.4 L229.7,173.7 L231.3,172.2 L232.8,170.5 L234.3,168.8 L235.9,167.1 L237.4,166.1 L238.9,164.6 L240.5,163.3 L242.0,162.3 L243.5,160.5 L245.1,158.5 L246.6,157.7 L248.1,155.6 L249.7,154.7 L251.2,154.9 L252.7,154.3 L254.3,153.3 L255.8,152.5 L257.3,152.0 L258.9,150.5 L260.4,150.5 L261.9,149.1 L263.5,148.8 L265.0,146.4 L266.5,145.8 L268.1,143.3 L269.6,142.0 L271.1,139.2 L272.7,137.9 L274.2,135.7 L275.7,133.9 L277.3,132.5 L278.8,131.0 L280.3,129.2 L281.9,127.9 L283.4,125.9 L284.9,122.7 L286.5,121.9 L288.0,119.3 L289.5,118.2 L291.1,117.0 L292.6,114.6 L294.1,113.1 L295.7,112.0 L297.2,110.1 L298.7,109.4 L300.3,107.3 L301.8,106.0 L303.3,105.3 L304.9,102.9 L306.4,101.9 L307.9,100.5 L309.5,100.3 L311.0,100.1 L312.5,99.6 L314.1,98.1 L315.6,96.7 L317.1,95.5 L318.7,94.3 L320.2,94.5 L321.7,95.0 L323.3,93.1 L324.8,93.2 L326.3,94.9 L327.9,93.1 L329.4,94.1 L330.9,93.2 L332.4,94.2 L334.0,94.2 L335.5,93.7 L337.0,93.8 L338.6,93.0 L340.1,92.8 L341.6,92.8 L343.2,91.7 L344.7,89.8 L346.2,88.7 L347.8,88.2 L349.3,87.7 L350.8,87.7 L352.4,87.3 L353.9,88.1 L355.4,87.5 L357.0,87.5 L358.5,86.9 L360.0,87.2 L361.6,86.6 L363.1,88.7 L364.6,88.1 L366.2,87.6 L367.7,86.7 L369.2,85.7 L370.8,84.3 L372.3,83.0 L373.8,81.9 L375.4,80.5 L376.9,81.1 L378.4,79.9 L380.0,78.6 L381.5,78.8 L383.0,74.6 L384.6,74.5 L386.1,74.3 L387.6,73.6 L389.2,73.2 L390.7,71.0 L392.2,70.6 L393.8,71.4 L395.3,71.0 L396.8,72.8 L398.4,72.4 L399.9,72.6 L401.4,72.9 L403.0,72.6 L404.5,73.0 L406.0,72.4 L407.6,72.4 L409.1,71.4 L410.6,71.0 L412.2,69.4 L413.7,69.0 L415.2,70.0 L416.8,69.8 L418.3,69.1 L419.8,69.6 L421.4,69.3 L422.9,71.6 L424.4,70.0 L426.0,72.7 L427.5,71.6 L429.0,72.5 L430.6,71.7 L432.1,71.6 L433.6,72.7 L435.2,73.0 L436.7,72.5 L438.2,72.0 L439.8,73.5 L441.3,73.4 L442.8,73.5 L444.4,74.3 L445.9,75.4 L447.4,74.9 L449.0,74.2 L450.5,71.5 L452.0,71.2 L453.6,70.7 L455.1,72.8 L456.6,74.1 L458.2,73.8 L459.7,74.5 L461.2,74.9 L462.8,73.7 L464.3,72.8 L465.8,73.1 L467.4,72.0 L468.9,71.1 L470.4,71.9 L472.0,71.4 L473.5,70.5 L475.0,71.9 L476.6,71.9 L478.1,73.1 L479.6,72.2 L481.2,72.1 L482.7,72.7 L484.2,73.0 L485.8,72.8 L487.3,74.3 L488.8,74.7 L490.3,76.2 L491.9,77.4 L493.4,76.7 L494.9,77.9 L496.5,79.4 L498.0,81.3 L499.5,83.2 L501.1,85.5 L502.6,87.6 L504.1,87.9 L505.7,89.2 L507.2,90.5 L508.7,93.3 L510.3,94.8 L511.8,94.9 L513.3,96.1 L514.9,98.2 L516.4,99.8 L517.9,100.8 L519.5,101.7 L521.0,103.6 L522.5,105.5 L524.1,107.7 L525.6,111.5 L527.1,113.4 L528.7,115.7 L530.2,118.8 L531.7,121.4 L533.3,125.1 L534.8,128.6 L536.3,130.3 L537.9,133.7 L539.4,136.3 L540.9,138.0 L542.5,139.9 L544.0,142.8 L545.5,146.1 L547.1,148.9 L548.6,152.0 L550.1,155.4 L551.7,158.3 L553.2,161.4 L554.7,163.7 L556.3,167.9 L557.8,170.8 L559.3,174.0 L560.9,176.7 L562.4,180.7 L563.9,183.0 L565.5,186.7 L567.0,189.4 L568.5,191.6 L570.1,194.7 L571.6,198.8 L573.1,201.8 L574.7,204.9 L576.2,208.7 L577.7,212.4 L579.3,215.6 L580.8,219.1 L582.3,221.7 L583.9,224.6 L585.4,228.1 L586.3,229.0" stroke="#ffa500" stroke-width="1.0"/>
<path d="M28.9,248.6 L30.4,251.1 L32.0,253.3 L33.5,256.1 L35.0,258.6 L36.6,260.8 L38.1,262.6 L39.6,265.1 L41.2,267.2 L42.7,269.8 L44.2,271.9 L45.8,274.7 L47.3,276.7 L48.8,278.1 L50.4,280.6 L51.9,282.1 L53.4,284.7 L55.0,286.5 L56.5,287.6 L58.0,289.2 L59.6,289.9 L61.1,290.8 L62.6,292.4 L64.2,293.6 L65.7,294.4 L67.2,296.2 L68.8,297.5 L70.3,298.7 L71.8,300.0 L73.4,300.6 L74.9,301.1 L76.4,302.1 L78.0,303.1 L79.5,303.3 L81.0,304.8 L82.6,305.3 L84.1,305.5 L85.6,306.0 L87.2,308.2 L88.7,308.0 L90.2,308.7 L91.8,309.5 L93.3,309.7 L94.8,309.7 L96.4,310.0 L97.9,309.4 L99.4,309.6 L101.0,308.5 L102.5,308.9 L104.0,308.9 L105.6,308.1 L107.1,309.1 L108.6,307.6 L110.2,307.5 L111.7,306.0 L113.2,305.3 L114.8,304.0 L116.3,304.3 L117.8,303.3 L119.4,303.1 L120.9,302.2 L122.4,301.5 L124.0,300.4 L125.5,299.5 L127.0,299.0 L128.6,298.2 L130.1,297.4 L131.6,296.1 L133.2,295.3 L134.7,294.6 L136.2,293.4 L137.8,293.2 L139.3,292.7 L140.8,292.0 L142.4,291.4 L143.9,290.7 L145.4,290.0 L147.0,288.9 L148.5,288.0 L150.0,286.1 L151.6,284.7 L153.1,284.7 L154.6,283.4 L156.2,282.4 L157.7,282.1 L159.2,280.6 L160.8,279.1 L162.3,278.1 L163.8,276.7 L165.4,275.9 L166.9,274.1 L168.4,272.9 L170.0,271.8 L171.5,271.1 L173.0,269.7 L174.6,267.5 L176.1,266.7 L177.6,264.9 L179.1,263.8 L180.7,261.7 L182.2,260.4 L183.7,258.3 L185.3,256.6 L186.8,255.2 L188.3,253.7 L189.9,251.7 L191.4,249.5 L192.9,248.6 L194.5,246.1 L196.0,244.1 L197.5,242.4 L199.1,240.8 L200.6,240.0 L202.1,239.3 L203.7,236.9 L205.2,235.9 L206.7,233.9 L208.3,233.2 L209.8,231.1 L211.3,229.3 L212.9,228.2 L214.4,227.0 L215.9,225.4 L217.5,223.3 L219.0,221.2 L220.5,219.4 L222.1,217.3 L223.6,217.1 L225.1,215.0 L226.7,213.7 L228.2,212.0 L229.7,210.6 L231.3,207.5 L232.8,206.1 L234.3,204.3 L235.9,202.9 L237.4,200.9 L238.9,200.4 L240.5,197.9 L242.0,195.9 L243.5,194.2 L245.1,192.1 L246.6,190.5 L248.1,187.9 L249.7,186.4 L251.2,184.6 L252.7,182.5 L254.3,180.6 L255.8,178.1 L257.3,176.6 L258.9,174.0 L260.4,172.2 L261.9,171.5 L263.5,170.7 L265.0,168.5 L266.5,166.7 L268.1,164.8 L269.6,162.8 L271.1,160.4 L272.7,158.4 L274.2,155.5 L275.7,154.9 L277.3,152.6 L278.8,150.1 L280.3,149.4 L281.9,147.6 L283.4,146.8 L284.9,144.4 L286.5,144.3 L288.0,141.9 L289.5,139.3 L291.1,138.9 L292.6,136.8 L294.1,134.8 L295.7,133.6 L297.2,131.0 L298.7,130.4 L300.3,128.3 L301.8,126.5 L303.3,125.6 L304.9,123.5 L306.4,122.3 L307.9,122.1 L309.5,122.8 L311.0,123.5 L312.5,121.9 L314.1,120.3 L315.6,119.7 L317.1,117.4 L318.7,115.4 L320.2,114.6 L321.7,111.2 L323.3,110.5 L324.8,108.2 L326.3,107.8 L327.9,106.8 L329.4,105.5 L330.9,102.7 L332.4,102.7 L334.0,102.2 L335.5,101.5 L337.0,102.7 L338.6,100.5 L340.1,98.6 L341.6,97.9 L343.2,95.4 L344.7,96.6 L346.2,95.5 L347.8,93.7 L349.3,93.5 L350.8,93.1 L352.4,93.7 L353.9,91.9 L355.4,90.6 L357.0,88.8 L358.5,88.3 L360.0,86.1 L361.6,85.6 L363.1,84.8 L364.6,83.4 L366.2,82.3 L367.7,82.7 L369.2,80.9 L370.8,80.2 L372.3,79.8 L373.8,77.8 L375.4,77.7 L376.9,79.3 L378.4,76.8 L380.0,75.2 L381.5,74.7 L383.0,73.5 L384.6,72.4 L386.1,72.8 L387.6,73.2 L389.2,73.3 L390.7,73.6 L392.2,71.8 L393.8,71.4 L395.3,72.2 L396.8,70.4 L398.4,70.2 L399.9,68.4 L401.4,66.4 L403.0,67.0 L404.5,65.5 L406.0,65.8 L407.6,66.0 L409.1,66.3 L410.6,64.7 L412.2,64.8 L413.7,63.7 L415.2,62.9 L416.8,59.6 L418.3,60.0 L419.8,59.6 L421.4,59.0 L422.9,57.5 L424.4,58.0 L426.0,58.1 L427.5,57.4 L429.0,56.9 L430.6,56.4 L432.1,56.3 L433.6,56.9 L435.2,57.6 L436.7,56.8 L438.2,56.7 L439.8,56.9 L441.3,58.1 L442.8,57.9 L444.4,57.9 L445.9,57.6 L447.4,56.9 L449.0,56.1 L450.5,55.6 L452.0,56.4 L453.6,57.4 L455.1,58.3 L456.6,58.8 L458.2,60.0 L459.7,62.1 L461.2,61.5 L462.8,61.5 L464.3,60.5 L465.8,60.1 L467.4,60.6 L468.9,62.7 L470.4,64.0 L472.0,66.0 L473.5,65.6 L475.0,66.6 L476.6,68.0 L478.1,68.4 L479.6,69.2 L481.2,69.4 L482.7,68.3 L484.2,69.2 L485.8,69.3 L487.3,70.9 L488.8,70.6 L490.3,71.5 L491.9,73.2 L493.4,74.0 L494.9,76.4 L496.5,78.8 L498.0,80.3 L499.5,82.6 L501.1,83.7 L502.6,85.3 L504.1,86.5 L505.7,88.0 L507.2,89.8 L508.7,91.6 L510.3,92.7 L511.8,95.0 L513.3,96.5 L514.9,97.3 L516.4,98.6 L517.9,100.5 L519.5,102.5 L521.0,104.2 L522.5,106.6 L524.1,107.5 L525.6,110.4 L527.1,113.0 L528.7,115.0 L530.2,116.9 L531.7,118.6 L533.3,121.1 L534.8,124.3 L536.3,127.2 L537.9,128.8 L539.4,131.7 L540.9,134.2 L542.5,136.8 L544.0,138.8 L545.5,141.0 L547.1,143.4 L548.6,145.1 L550.1,148.2 L551.7,150.1 L553.2,152.4 L554.7,154.9 L556.3,156.5 L557.8,159.5 L559.3,162.3 L560.9,164.4 L562.4,167.1 L563.9,169.6 L565.5,172.0 L567.0,174.5 L568.5,177.1 L570.1,179.3 L571.6,182.0 L573.1,185.1 L574.7,189.0 L576.2,192.1 L577.7,196.2 L579.3,199.0 L580.8,202.8 L582.3,204.4 L583.9,206.7 L585.4,209.6 L586.3,211.0" stroke="#a52a2a" stroke-width="1.0"/>
<path d="M28.9,266.3 L30.4,270.2 L32.0,274.2 L33.5,276.9 L35.0,279.1 L36.6,280.5 L38.1,282.2 L39.6,283.1 L41.2,286.2 L42.7,286.9 L44.2,289.1 L45.8,290.7 L47.3,292.6 L48.8,294.6 L50.4,295.9 L51.9,297.3 L53.4,298.3 L55.0,299.6 L56.5,300.7 L58.0,302.9 L59.6,303.1 L61.1,304.2 L62.6,305.6 L64.2,306.8 L65.7,306.6 L67.2,307.5 L68.8,308.9 L70.3,309.7 L71.8,309.9 L73.4,310.6 L74.9,311.6 L76.4,312.6 L78.0,312.7 L79.5,313.3 L81.0,313.3 L82.6,313.7 L84.1,314.4 L85.6,314.5 L87.2,314.9 L88.7,314.8 L90.2,315.0 L91.8,315.5 L93.3,315.5 L94.8,315.7 L96.4,316.5 L97.9,316.8 L99.4,316.6 L101.0,316.1 L102.5,316.3 L104.0,316.5 L105.6,315.1 L107.1,314.6 L108.6,314.6 L110.2,314.4 L111.7,314.1 L113.2,313.8 L114.8,314.1 L116.3,313.8 L117.8,313.6 L119.4,313.0 L120.9,312.2 L122.4,312.1 L124.0,310.9 L125.5,310.2 L127.0,309.2 L128.6,309.4 L130.1,308.7 L131.6,307.6 L133.2,306.9 L134.7,306.3 L136.2,305.7 L137.8,305.3 L139.3,304.3 L140.8,303.4 L142.4,301.5 L143.9,300.5 L145.4,298.7 L147.0,298.5 L148.5,297.3 L150.0,296.3 L151.6,295.7 L153.1,295.1 L154.6,293.7 L156.2,291.5 L157.7,290.6 L159.2,288.4 L160.8,287.3 L162.3,285.7 L163.8,284.6 L165.4,283.3 L166.9,281.5 L168.4,280.5 L170.0,279.6 L171.5,278.3 L173.0,277.1 L174.6,274.9 L176.1,274.0 L177.6,272.7 L179.1,271.0 L180.7,268.9 L182.2,267.6 L183.7,266.1 L185.3,263.8 L186.8,262.6 L188.3,260.2 L189.9,258.5 L191.4,256.8 L192.9,255.9 L194.5,253.6 L196.0,252.2 L197.5,251.3 L199.1,249.4 L200.6,247.9 L202.1,245.0 L203.7,243.6 L205.2,241.1 L206.7,238.1 L208.3,236.7 L209.8,234.2 L211.3,232.6 L212.9,231.0 L214.4,229.6 L215.9,228.6 L217.5,226.6 L219.0,225.5 L220.5,223.8 L222.1,221.4 L223.6,219.1 L225.1,217.6 L226.7,215.4 L228.2,213.9 L229.7,212.0 L231.3,209.9 L232.8,208.3 L234.3,206.8 L235.9,205.2 L237.4,202.5 L238.9,200.9 L240.5,198.6 L242.0,196.3 L243.5,195.2 L245.1,192.7 L246.6,190.2 L248.1,187.9 L249.7,185.4 L251.2,182.7 L252.7,181.3 L254.3,178.4 L255.8,175.7 L257.3,173.7 L258.9,171.9 L260.4,169.8 L261.9,169.0 L263.5,167.9 L265.0,167.6 L266.5,166.4 L268.1,166.1 L269.6,163.3 L271.1,161.9 L272.7,160.1 L274.2,158.1 L275.7,157.0 L277.3,154.6 L278.8,152.3 L280.3,150.5 L281.9,148.6 L283.4,148.2 L284.9,146.8 L286.5,145.6 L288.0,143.1 L289.5,142.3 L291.1,140.3 L292.6,139.0 L294.1,137.8 L295.7,135.4 L297.2,133.2 L298.7,131.8 L300.3,130.0 L301.8,128.6 L303.3,125.3 L304.9,124.7 L306.4,122.8 L307.9,120.9 L309.5,119.8 L311.0,117.6 L312.5,115.6 L314.1,114.7 L315.6,113.4 L317.1,112.8 L318.7,110.2 L320.2,108.9 L321.7,107.6 L323.3,107.3 L324.8,105.9 L326.3,104.7 L327.9,102.7 L329.4,102.3 L330.9,100.9 L332.4,101.5 L334.0,99.8 L335.5,98.3 L337.0,99.5 L338.6,98.2 L340.1,97.3 L341.6,96.6 L343.2,95.0 L344.7,95.0 L346.2,92.3 L347.8,92.4 L349.3,90.0 L350.8,87.8 L352.4,88.9 L353.9,89.5 L355.4,88.4 L357.0,88.9 L358.5,87.6 L360.0,86.4 L361.6,84.2 L363.1,85.6 L364.6,83.9 L366.2,83.6 L367.7,81.9 L369.2,81.2 L370.8,81.5 L372.3,79.7 L373.8,78.6 L375.4,76.9 L376.9,76.8 L378.4,76.5 L380.0,75.5 L381.5,75.5 L383.0,74.3 L384.6,75.0 L386.1,73.0 L387.6,72.9 L389.2,74.2 L390.7,73.3 L392.2,73.2 L393.8,74.3 L395.3,75.5 L396.8,77.5 L398.4,77.0 L399.9,76.6 L401.4,76.5 L403.0,76.2 L404.5,74.4 L406.0,74.9 L407.6,73.5 L409.1,71.9 L410.6,68.9 L412.2,69.9 L413.7,71.0 L415.2,70.6 L416.8,72.4 L418.3,70.7 L419.8,69.2 L421.4,69.6 L422.9,69.0 L424.4,69.0 L426.0,67.7 L427.5,68.0 L429.0,66.4 L430.6,66.8 L432.1,65.9 L433.6,65.9 L435.2,66.0 L436.7,65.1 L438.2,64.9 L439.8,65.0 L441.3,65.1 L442.8,64.8 L444.4,64.0 L445.9,63.5 L447.4,62.7 L449.0,62.4 L450.5,62.4 L452.0,64.1 L453.6,64.8 L455.1,65.0 L456.6,67.6 L458.2,66.3 L459.7,68.3 L461.2,69.2 L462.8,69.5 L464.3,71.4 L465.8,70.2 L467.4,70.0 L468.9,71.6 L470.4,70.9 L472.0,71.4 L473.5,72.5 L475.0,73.5 L476.6,74.4 L478.1,74.8 L479.6,74.0 L481.2,75.1 L482.7,76.2 L484.2,75.3 L485.8,76.4 L487.3,77.7 L488.8,79.1 L490.3,79.4 L491.9,80.9 L493.4,82.8 L494.9,85.7 L496.5,87.4 L498.0,87.7 L499.5,89.4 L501.1,91.5 L502.6,92.9 L504.1,95.2 L505.7,96.5 L507.2,98.7 L508.7,99.9 L510.3,101.7 L511.8,104.3 L513.3,105.7 L514.9,107.6 L516.4,110.2 L517.9,112.7 L519.5,113.9 L521.0,117.4 L522.5,119.6 L524.1,121.2 L525.6,123.7 L527.1,125.8 L528.7,128.3 L530.2,131.1 L531.7,133.2 L533.3,137.1 L534.8,140.4 L536.3,143.8 L537.9,145.8 L539.4,149.0 L540.9,153.1 L542.5,155.8 L544.0,159.0 L545.5,162.3 L547.1,165.4 L548.6,169.2 L550.1,172.7 L551.7,176.6 L553.2,180.8 L554.7,184.0 L556.3,188.8 L557.8,191.7 L559.3,197.8 L560.9,200.7 L562.4,205.5 L563.9,209.4 L565.5,212.8 L567.0,217.0 L568.5,220.5 L570.1,223.5 L571.6,227.2 L573.1,230.0 L574.7,231.8 L576.2,233.9 L577.7,237.0 L579.3,240.1 L580.8,242.5 L582.3,244.5 L583.9,245.9 L585.4,247.8 L586.3,249.5" stroke="#000" stroke-width="1.0"/>
<path d="M28.9,248.5 L30.4,249.3 L32.0,252.0 L33.5,254.3 L35.0,257.2 L36.6,258.9 L38.1,261.7 L39.6,264.0 L41.2,266.4 L42.7,268.3 L44.2,271.0 L45.8,273.1 L47.3,274.4 L48.8,277.2 L50.4,278.3 L51.9,280.3 L53.4,282.4 L55.0,283.6 L56.5,285.2 L58.0,286.7 L59.6,288.1 L61.1,289.1 L62.6,290.4 L64.2,292.3 L65.7,293.6 L67.2,294.8 L68.8,295.8 L70.3,297.2 L71.8,298.0 L73.4,298.8 L74.9,300.5 L76.4,301.5 L78.0,302.5 L79.5,302.9 L81.0,304.0 L82.6,305.4 L84.1,306.0 L85.6,306.9 L87.2,307.9 L88.7,308.4 L90.2,309.6 L91.8,309.5 L93.3,310.3 L94.8,310.3 L96.4,311.1 L97.9,310.5 L99.4,310.6 L101.0,310.9 L102.5,309.9 L104.0,309.6 L105.6,309.6 L107.1,309.4 L108.6,308.7 L110.2,309.1 L111.7,308.7 L113.2,308.5 L114.8,308.3 L116.3,307.8 L117.8,307.8 L119.4,306.9 L120.9,305.7 L122.4,304.7 L124.0,304.0 L125.5,302.9 L127.0,302.1 L128.6,300.6 L130.1,299.6 L131.6,298.9 L133.2,296.7 L134.7,295.6 L136.2,293.7 L137.8,291.8 L139.3,290.2 L140.8,289.6 L142.4,287.7 L143.9,286.2 L145.4,284.4 L147.0,283.9 L148.5,282.1 L150.0,280.4 L151.6,278.8 L153.1,277.0 L154.6,275.3 L156.2,274.0 L157.7,272.3 L159.2,270.2 L160.8,270.1 L162.3,268.6 L163.8,267.2 L165.4,266.5 L166.9,264.4 L168.4,262.7 L170.0,262.9 L171.5,261.1 L173.0,258.8 L174.6,257.7 L176.1,256.5 L177.6,254.5 L179.1,253.6 L180.7,252.6 L182.2,250.7 L183.7,248.4 L185.3,246.6 L186.8,244.2 L188.3,242.8 L189.9,241.0 L191.4,239.2 L192.9,237.4 L194.5,236.9 L196.0,234.5 L197.5,232.5 L199.1,231.3 L200.6,230.7 L202.1,229.5 L203.7,227.5 L205.2,226.5 L206.7,225.4 L208.3,223.5 L209.8,221.7 L211.3,220.2 L212.9,218.8 L214.4,216.7 L215.9,214.6 L217.5,213.2 L219.0,211.7 L220.5,209.5 L222.1,207.2 L223.6,205.9 L225.1,203.0 L226.7,201.3 L228.2,198.9 L229.7,197.9 L231.3,195.9 L232.8,193.9 L234.3,192.9 L235.9,192.6 L237.4,190.8 L238.9,188.9 L240.5,187.5 L242.0,184.7 L243.5,183.2 L245.1,181.1 L246.6,179.4 L248.1,177.7 L249.7,176.2 L251.2,174.6 L252.7,172.7 L254.3,171.4 L255.8,168.1 L257.3,166.4 L258.9,164.8 L260.4,162.6 L261.9,161.1 L263.5,159.8 L265.0,157.8 L266.5,157.1 L268.1,156.2 L269.6,153.8 L271.1,151.8 L272.7,151.3 L274.2,149.4 L275.7,148.6 L277.3,146.8 L278.8,145.4 L280.3,144.0 L281.9,142.0 L283.4,139.7 L284.9,137.5 L286.5,135.2 L288.0,133.6 L289.5,132.6 L291.1,131.9 L292.6,130.7 L294.1,130.0 L295.7,128.6 L297.2,127.3 L298.7,125.8 L300.3,125.4 L301.8,122.7 L303.3,122.6 L304.9,120.4 L306.4,119.7 L307.9,117.9 L309.5,116.2 L311.0,114.4 L312.5,111.2 L314.1,109.2 L315.6,107.9 L317.1,106.4 L318.7,106.0 L320.2,104.6 L321.7,103.8 L323.3,103.3 L324.8,102.3 L326.3,102.6 L327.9,100.3 L329.4,100.5 L330.9,99.7 L332.4,98.3 L334.0,97.7 L335.5,97.8 L337.0,95.9 L338.6,93.4 L340.1,91.9 L341.6,91.7 L343.2,89.4 L344.7,90.1 L346.2,90.0 L347.8,89.4 L349.3,90.1 L350.8,89.3 L352.4,89.3 L353.9,88.5 L355.4,88.5 L357.0,86.4 L358.5,86.3 L360.0,85.7 L361.6,85.4 L363.1,83.0 L364.6,82.5 L366.2,82.5 L367.7,82.3 L369.2,82.0 L370.8,81.2 L372.3,81.7 L373.8,80.1 L375.4,79.5 L376.9,78.0 L378.4,77.9 L380.0,76.9 L381.5,76.2 L383.0,75.0 L384.6,74.7 L386.1,74.3 L387.6,71.7 L389.2,70.0 L390.7,71.4 L392.2,70.5 L393.8,68.9 L395.3,68.0 L396.8,70.0 L398.4,68.2 L399.9,68.3 L401.4,69.1 L403.0,69.4 L404.5,67.8 L406.0,66.8 L407.6,66.4 L409.1,65.4 L410.6,65.5 L412.2,65.1 L413.7,64.2 L415.2,64.7 L416.8,63.7 L418.3,65.0 L419.8,63.6 L421.4,63.6 L422.9,61.8 L424.4,61.9 L426.0,60.6 L427.5,61.6 L429.0,60.0 L430.6,60.1 L432.1,58.5 L433.6,58.6 L435.2,59.3 L436.7,58.7 L438.2,60.5 L439.8,59.6 L441.3,59.8 L442.8,59.3 L444.4,58.6 L445.9,59.3 L447.4,59.3 L449.0,61.3 L450.5,63.1 L452.0,63.4 L453.6,64.0 L455.1,64.3 L456.6,64.9 L458.2,65.4 L459.7,64.7 L461.2,64.0 L462.8,65.8 L464.3,67.1 L465.8,69.5 L467.4,71.3 L468.9,73.9 L470.4,73.4 L472.0,74.1 L473.5,75.5 L475.0,75.2 L476.6,76.4 L478.1,76.4 L479.6,75.6 L481.2,77.3 L482.7,78.2 L484.2,78.4 L485.8,78.8 L487.3,81.5 L488.8,82.3 L490.3,84.7 L491.9,86.8 L493.4,87.9 L494.9,89.1 L496.5,91.7 L498.0,93.3 L499.5,94.2 L501.1,95.2 L502.6,97.0 L504.1,97.9 L505.7,99.4 L507.2,101.4 L508.7,103.9 L510.3,106.1 L511.8,108.3 L513.3,109.7 L514.9,112.0 L516.4,113.8 L517.9,116.4 L519.5,119.5 L521.0,122.0 L522.5,124.3 L524.1,126.5 L525.6,128.9 L527.1,131.7 L528.7,133.8 L530.2,136.2 L531.7,138.2 L533.3,140.6 L534.8,142.7 L536.3,145.7 L537.9,147.7 L539.4,149.8 L540.9,152.9 L542.5,154.9 L544.0,158.2 L545.5,161.4 L547.1,166.1 L548.6,168.4 L550.1,172.7 L551.7,176.7 L553.2,181.0 L554.7,185.6 L556.3,189.5 L557.8,194.1 L559.3,198.9 L560.9,203.3 L562.4,206.3 L563.9,209.6 L565.5,214.1 L567.0,217.7 L568.5,222.1 L570.1,226.1 L571.6,231.2 L573.1,235.7 L574.7,240.3 L576.2,244.4 L577.7,248.3 L579.3,252.0 L580.8,254.1 L582.3,255.6 L583.9,256.6 L585.4,257.7 L586.3,259.2" stroke="#000" stroke-width="1.0"/>
<path d="M28.9,239.9 L30.4,242.6 L32.0,244.5 L33.5,246.6 L35.0,247.9 L36.6,250.4 L38.1,251.9 L39.6,253.0 L41.2,255.4 L42.7,256.5 L44.2,258.2 L45.8,260.3 L47.3,261.5 L48.8,263.2 L50.4,264.4 L51.9,266.0 L53.4,267.5 L55.0,268.6 L56.5,270.3 L58.0,271.7 L59.6,272.6 L61.1,274.6 L62.6,276.0 L64.2,277.4 L65.7,279.4 L67.2,281.2 L68.8,282.6 L70.3,283.4 L71.8,285.7 L73.4,287.0 L74.9,288.3 L76.4,289.6 L78.0,290.3 L79.5,291.8 L81.0,292.3 L82.6,293.1 L84.1,294.1 L85.6,294.9 L87.2,295.7 L88.7,296.1 L90.2,296.4 L91.8,297.1 L93.3,296.8 L94.8,297.6 L96.4,299.1 L97.9,299.1 L99.4,300.3 L101.0,300.7 L102.5,300.0 L104.0,300.9 L105.6,302.1 L107.1,301.2 L108.6,301.9 L110.2,301.7 L111.7,301.7 L113.2,301.6 L114.8,301.5 L116.3,301.5 L117.8,300.6 L119.4,300.4 L120.9,299.3 L122.4,299.0 L124.0,298.0 L125.5,296.7 L127.0,295.9 L128.6,294.4 L130.1,293.2 L131.6,292.7 L133.2,290.5 L134.7,290.1 L136.2,288.8 L137.8,287.1 L139.3,286.2 L140.8,284.8 L142.4,282.8 L143.9,282.1 L145.4,280.7 L147.0,278.7 L148.5,277.5 L150.0,275.8 L151.6,273.5 L153.1,271.3 L154.6,270.3 L156.2,268.2 L157.7,266.3 L159.2,265.5 L160.8,263.7 L162.3,263.4 L163.8,262.9 L165.4,260.1 L166.9,259.8 L168.4,257.8 L170.0,256.6 L171.5,255.0 L173.0,254.1 L174.6,252.6 L176.1,251.0 L177.6,249.5 L179.1,248.4 L180.7,247.6 L182.2,245.3 L183.7,244.3 L185.3,242.6 L186.8,240.0 L188.3,239.2 L189.9,236.8 L191.4,235.7 L192.9,233.8 L194.5,231.6 L196.0,230.4 L197.5,228.8 L199.1,227.2 L200.6,226.5 L202.1,224.6 L203.7,222.9 L205.2,221.5 L206.7,220.3 L208.3,219.0 L209.8,217.4 L211.3,215.9 L212.9,214.3 L214.4,213.1 L215.9,209.6 L217.5,207.9 L219.0,206.4 L220.5,204.3 L222.1,202.7 L223.6,200.8 L225.1,199.3 L226.7,196.6 L228.2,195.7 L229.7,194.0 L231.3,192.9 L232.8,191.0 L234.3,189.6 L235.9,187.3 L237.4,186.1 L238.9,184.1 L240.5,182.5 L242.0,180.6 L243.5,178.7 L245.1,177.8 L246.6,175.7 L248.1,174.4 L249.7,171.8 L251.2,169.7 L252.7,168.5 L254.3,167.1 L255.8,166.0 L257.3,164.6 L258.9,163.1 L260.4,161.5 L261.9,159.5 L263.5,157.7 L265.0,155.8 L266.5,154.9 L268.1,152.7 L269.6,150.8 L271.1,149.8 L272.7,148.1 L274.2,146.9 L275.7,144.7 L277.3,144.3 L278.8,142.7 L280.3,141.1 L281.9,139.0 L283.4,136.6 L284.9,134.1 L286.5,133.2 L288.0,130.1 L289.5,129.5 L291.1,127.8 L292.6,126.4 L294.1,125.2 L295.7,124.2 L297.2,123.6 L298.7,122.2 L300.3,120.8 L301.8,119.0 L303.3,117.4 L304.9,117.7 L306.4,114.6 L307.9,112.6 L309.5,112.6 L311.0,110.2 L312.5,110.4 L314.1,109.2 L315.6,107.3 L317.1,106.1 L318.7,103.6 L320.2,102.8 L321.7,102.8 L323.3,102.4 L324.8,101.8 L326.3,101.6 L327.9,100.6 L329.4,99.4 L330.9,100.4 L332.4,99.6 L334.0,99.6 L335.5,99.7 L337.0,97.6 L338.6,96.8 L340.1,95.0 L341.6,95.1 L343.2,93.8 L344.7,92.6 L346.2,91.8 L347.8,89.5 L349.3,89.8 L350.8,89.1 L352.4,89.0 L353.9,86.0 L355.4,86.3 L357.0,87.2 L358.5,85.1 L360.0,84.5 L361.6,85.2 L363.1,85.2 L364.6,83.3 L366.2,82.6 L367.7,82.1 L369.2,81.2 L370.8,79.5 L372.3,77.9 L373.8,77.1 L375.4,75.6 L376.9,74.8 L378.4,73.5 L380.0,71.7 L381.5,71.8 L383.0,70.6 L384.6,69.7 L386.1,70.1 L387.6,70.8 L389.2,70.8 L390.7,70.5 L392.2,70.9 L393.8,71.0 L395.3,69.9 L396.8,69.7 L398.4,68.3 L399.9,68.1 L401.4,67.7 L403.0,67.3 L404.5,66.4 L406.0,66.1 L407.6,65.7 L409.1,66.1 L410.6,64.4 L412.2,64.2 L413.7,63.4 L415.2,62.3 L416.8,62.7 L418.3,61.9 L419.8,61.4 L421.4,59.5 L422.9,59.0 L424.4,59.1 L426.0,58.1 L427.5,58.7 L429.0,57.9 L430.6,57.7 L432.1,55.9 L433.6,56.2 L435.2,55.2 L436.7,55.9 L438.2,54.4 L439.8,55.2 L441.3,55.9 L442.8,56.3 L444.4,55.4 L445.9,56.7 L447.4,59.0 L449.0,58.8 L450.5,59.4 L452.0,58.4 L453.6,59.7 L455.1,60.5 L456.6,60.2 L458.2,60.2 L459.7,60.5 L461.2,60.1 L462.8,61.0 L464.3,60.2 L465.8,63.4 L467.4,62.5 L468.9,63.2 L470.4,65.4 L472.0,65.9 L473.5,66.8 L475.0,66.3 L476.6,67.2 L478.1,68.2 L479.6,68.2 L481.2,69.6 L482.7,70.4 L484.2,71.1 L485.8,71.6 L487.3,72.3 L488.8,74.4 L490.3,75.9 L491.9,78.1 L493.4,79.2 L494.9,80.6 L496.5,81.7 L498.0,84.0 L499.5,85.5 L501.1,88.5 L502.6,90.6 L504.1,92.4 L505.7,93.1 L507.2,94.6 L508.7,96.6 L510.3,97.8 L511.8,100.3 L513.3,101.1 L514.9,102.3 L516.4,103.9 L517.9,106.0 L519.5,106.9 L521.0,109.7 L522.5,111.5 L524.1,114.8 L525.6,117.5 L527.1,120.8 L528.7,123.6 L530.2,126.9 L531.7,129.7 L533.3,132.2 L534.8,135.0 L536.3,138.1 L537.9,141.1 L539.4,143.9 L540.9,146.7 L542.5,150.6 L544.0,153.7 L545.5,156.3 L547.1,159.3 L548.6,162.5 L550.1,165.8 L551.7,169.1 L553.2,171.7 L554.7,175.5 L556.3,178.4 L557.8,182.9 L559.3,187.0 L560.9,190.0 L562.4,193.9 L563.9,197.1 L565.5,200.5 L567.0,205.2 L568.5,208.6 L570.1,212.3 L571.6,215.9 L573.1,220.1 L574.7,223.9 L576.2,227.9 L577.7,230.7 L579.3,234.1 L580.8,236.6 L582.3,238.2 L583.9,241.4 L585.4,243.6 L586.3,245.5" stroke="#000" stroke-width="1.0"/>
<path d="M28.9,252.4 L30.4,254.0 L32.0,255.2 L33.5,256.9 L35.0,257.6 L36.6,259.4 L38.1,261.1 L39.6,262.0 L41.2,262.7 L42.7,264.3 L44.2,265.4 L45.8,266.2 L47.3,267.9 L48.8,269.2 L50.4,270.2 L51.9,271.7 L53.4,272.1 L55.0,273.6 L56.5,274.2 L58.0,275.0 L59.6,276.2 L61.1,278.1 L62.6,278.7 L64.2,280.0 L65.7,280.8 L67.2,281.5 L68.8,282.7 L70.3,283.7 L71.8,284.1 L73.4,284.5 L74.9,285.4 L76.4,286.0 L78.0,286.9 L79.5,287.4 L81.0,288.9 L82.6,289.0 L84.1,289.6 L85.6,290.4 L87.2,291.4 L88.7,292.0 L90.2,292.8 L91.8,293.4 L93.3,294.3 L94.8,293.9 L96.4,295.0 L97.9,295.2 L99.4,295.7 L101.0,296.6 L102.5,296.4 L104.0,296.2 L105.6,296.8 L107.1,296.8 L108.6,297.2 L110.2,296.4 L111.7,296.2 L113.2,295.4 L114.8,294.9 L116.3,294.5 L117.8,293.9 L119.4,293.6 L120.9,293.3 L122.4,292.0 L124.0,291.3 L125.5,290.8 L127.0,289.4 L128.6,288.9 L130.1,287.7 L131.6,285.6 L133.2,284.9 L134.7,283.4 L136.2,282.6 L137.8,281.2 L139.3,279.2 L140.8,278.3 L142.4,277.4 L143.9,276.1 L145.4,275.0 L147.0,273.7 L148.5,272.2 L150.0,271.1 L151.6,269.9 L153.1,268.4 L154.6,267.0 L156.2,265.4 L157.7,264.5 L159.2,263.1 L160.8,261.8 L162.3,260.2 L163.8,258.9 L165.4,257.7 L166.9,256.6 L168.4,254.8 L170.0,253.2 L171.5,251.4 L173.0,250.5 L174.6,249.1 L176.1,247.3 L177.6,246.8 L179.1,244.5 L180.7,243.8 L182.2,242.0 L183.7,240.7 L185.3,239.0 L186.8,237.7 L188.3,236.7 L189.9,235.0 L191.4,233.6 L192.9,232.6 L194.5,231.0 L196.0,229.4 L197.5,228.0 L199.1,227.1 L200.6,224.9 L202.1,223.4 L203.7,221.7 L205.2,219.6 L206.7,218.0 L208.3,217.4 L209.8,216.2 L211.3,214.5 L212.9,212.6 L214.4,210.9 L215.9,209.7 L217.5,207.4 L219.0,204.9 L220.5,203.7 L222.1,201.4 L223.6,199.5 L225.1,197.8 L226.7,196.0 L228.2,193.9 L229.7,191.9 L231.3,189.5 L232.8,188.9 L234.3,187.3 L235.9,186.4 L237.4,184.8 L238.9,183.0 L240.5,181.8 L242.0,179.7 L243.5,178.2 L245.1,176.4 L246.6,175.1 L248.1,173.7 L249.7,172.2 L251.2,169.6 L252.7,168.3 L254.3,167.1 L255.8,163.9 L257.3,162.6 L258.9,161.1 L260.4,159.9 L261.9,158.7 L263.5,156.9 L265.0,154.8 L266.5,153.0 L268.1,152.1 L269.6,150.7 L271.1,149.1 L272.7,146.8 L274.2,145.8 L275.7,142.7 L277.3,141.3 L278.8,139.3 L280.3,137.3 L281.9,136.5 L283.4,135.3 L284.9,134.0 L286.5,133.1 L288.0,131.4 L289.5,131.5 L291.1,129.5 L292.6,126.9 L294.1,124.3 L295.7,124.1 L297.2,121.7 L298.7,119.8 L300.3,117.8 L301.8,116.3 L303.3,114.6 L304.9,115.2 L306.4,113.1 L307.9,110.5 L309.5,110.7 L311.0,108.1 L312.5,108.8 L314.1,108.1 L315.6,106.3 L317.1,105.3 L318.7,103.6 L320.2,102.9 L321.7,102.5 L323.3,101.5 L324.8,100.5 L326.3,100.0 L327.9,97.4 L329.4,98.3 L330.9,96.2 L332.4,94.5 L334.0,94.3 L335.5,93.5 L337.0,93.4 L338.6,92.9 L340.1,90.4 L341.6,91.1 L343.2,90.1 L344.7,87.3 L346.2,87.8 L347.8,86.7 L349.3,85.6 L350.8,85.2 L352.4,82.7 L353.9,83.3 L355.4,81.8 L357.0,83.4 L358.5,80.9 L360.0,80.3 L361.6,81.3 L363.1,80.3 L364.6,79.1 L366.2,78.2 L367.7,77.5 L369.2,77.3 L370.8,75.2 L372.3,74.8 L373.8,74.3 L375.4,74.0 L376.9,73.3 L378.4,71.5 L380.0,71.5 L381.5,69.7 L383.0,70.1 L384.6,70.2 L386.1,70.1 L387.6,70.5 L389.2,69.7 L390.7,68.3 L392.2,67.6 L393.8,65.3 L395.3,65.3 L396.8,63.4 L398.4,62.8 L399.9,62.7 L401.4,61.5 L403.0,61.9 L404.5,62.0 L406.0,61.8 L407.6,60.7 L409.1,59.4 L410.6,58.4 L412.2,58.8 L413.7,57.9 L415.2,57.8 L416.8,58.3 L418.3,58.1 L419.8,57.0 L421.4,55.9 L422.9,56.4 L424.4,55.6 L426.0,53.3 L427.5,52.1 L429.0,50.5 L430.6,53.1 L432.1,52.7 L433.6,54.5 L435.2,54.0 L436.7,54.3 L438.2,54.4 L439.8,53.4 L441.3,56.2 L442.8,53.5 L444.4,54.5 L445.9,54.1 L447.4,54.7 L449.0,55.7 L450.5,53.8 L452.0,55.0 L453.6,55.8 L455.1,55.9 L456.6,56.4 L458.2,55.9 L459.7,55.8 L461.2,56.8 L462.8,58.7 L464.3,60.8 L465.8,61.6 L467.4,63.3 L468.9,63.3 L470.4,64.2 L472.0,65.2 L473.5,65.1 L475.0,67.1 L476.6,66.6 L478.1,67.4 L479.6,69.4 L481.2,68.5 L482.7,70.5 L484.2,72.0 L485.8,73.2 L487.3,74.3 L488.8,75.1 L490.3,77.5 L491.9,76.6 L493.4,78.2 L494.9,80.5 L496.5,81.2 L498.0,81.8 L499.5,83.0 L501.1,84.7 L502.6,87.5 L504.1,87.9 L505.7,88.6 L507.2,90.8 L508.7,92.2 L510.3,95.4 L511.8,97.1 L513.3,99.5 L514.9,100.7 L516.4,103.0 L517.9,103.8 L519.5,105.4 L521.0,106.6 L522.5,108.9 L524.1,111.8 L525.6,114.3 L527.1,118.6 L528.7,120.6 L530.2,123.0 L531.7,126.3 L533.3,128.2 L534.8,131.4 L536.3,134.3 L537.9,137.3 L539.4,141.6 L540.9,144.4 L542.5,147.9 L544.0,150.1 L545.5,152.2 L547.1,154.9 L548.6,157.8 L550.1,160.9 L551.7,164.0 L553.2,167.2 L554.7,169.6 L556.3,173.4 L557.8,176.1 L559.3,179.5 L560.9,183.8 L562.4,186.5 L563.9,189.4 L565.5,193.8 L567.0,197.3 L568.5,200.8 L570.1,204.6 L571.6,207.6 L573.1,211.4 L574.7,214.9 L576.2,219.1 L577.7,222.0 L579.3,226.0 L580.8,230.0 L582.3,233.2 L583.9,237.2 L585.4,241.9 L586.3,244.0" stroke="#000" stroke-width="1.0"/>
<path d="M289.5,150.8 L291.1,148.6 L292.6,148.1 L294.1,146.1 L295.7,146.5 L297.2,144.3 L298.7,142.8 L300.3,127.4 L301.8,131.6 L303.3,135.6 L304.9,133.6 L306.4,133.0 L307.9,131.7 L309.5,129.9 L311.0,129.3 L312.5,128.2 L314.1,125.1 L315.6,124.6 L317.1,122.4 L318.7,121.9 L320.2,118.9 L321.7,118.9 L323.3,118.5 L324.8,115.8 L326.3,114.6 L327.9,111.7 L329.4,111.3 L330.9,110.0 L332.4,108.4 L334.0,107.1 L335.5,106.2 L337.0,105.6 L338.6,103.8 L340.1,102.2 L341.6,103.1 L343.2,99.5 L344.7,99.8 L346.2,100.2 L347.8,99.3 L349.3,99.5 L350.8,98.3 L352.4,96.7 L353.9,97.0 L355.4,95.7 L357.0,96.0 L358.5,97.3 L360.0,95.9 L361.6,96.4 L363.1,95.9 L364.6,94.6 L366.2,93.3 L367.7,92.3 L369.2,91.5 L370.8,92.5 L372.3,92.2 L373.8,90.7 L375.4,89.3 L376.9,89.5 L378.4,87.7 L380.0,87.8 L381.5,85.8 L383.0,83.2 L384.6,83.3 L386.1,81.2 L387.6,79.8 L389.2,77.3 L390.7,76.9 L392.2,75.9 L393.8,74.5 L395.3,75.6 L396.8,73.4 L398.4,75.5 L399.9,74.1 L401.4,74.0 L403.0,73.5 L404.5,74.2 L406.0,73.4 L407.6,74.0 L409.1,74.5 L410.6,74.6 L412.2,75.0 L413.7,74.4 L415.2,74.1 L416.8,73.8 L418.3,72.9 L419.8,75.0 L421.4,77.4 L422.9,77.3 L424.4,78.0 L426.0,77.8 L427.5,78.1 L429.0,78.7 L430.6,78.1 L432.1,78.6 L433.6,76.9 L435.2,77.2 L436.7,75.4 L438.2,76.6 L439.8,77.2 L441.3,76.0 L442.8,77.4 L444.4,76.3 L445.9,76.7 L447.4,75.1 L449.0,74.9 L450.5,74.7 L452.0,75.4 L453.6,73.5 L455.1,74.8 L456.6,74.2 L458.2,73.6 L459.7,73.6 L461.2,74.4 L462.8,74.6 L464.3,75.5 L465.8,74.7 L467.4,74.3 L468.9,75.0 L470.4,75.2 L472.0,74.9 L473.5,75.8 L475.0,76.6 L476.6,76.1 L478.1,75.4 L479.6,77.2 L481.2,76.5 L482.7,77.0 L484.2,77.7 L485.8,78.1 L487.3,78.6 L488.8,79.7 L490.3,80.9 L491.9,81.9 L493.4,84.1 L494.9,83.5 L496.5,86.5 L498.0,88.4 L499.5,90.8 L501.1,92.1 L502.6,94.0 L504.1,94.4 L505.7,96.2 L507.2,97.7 L508.7,98.6 L510.3,99.7 L511.8,101.4 L513.3,103.7 L514.9,103.7 L516.4,107.2 L517.9,108.9 L519.5,110.9 L521.0,114.1 L522.5,116.2 L524.1,119.2 L525.6,121.1 L527.1,124.8 L528.7,127.1 L530.2,130.5 L531.7,133.4 L533.3,136.0 L534.8,139.5 L536.3,142.2 L537.9,146.0 L539.4,148.3 L540.9,151.1 L542.5,154.3 L544.0,157.4 L545.5,160.2 L547.1,164.2 L548.6,167.2 L550.1,170.9 L551.7,173.6 L553.2,177.0 L554.7,180.8 L556.3,184.1 L557.8,188.3 L559.3,192.6 L560.9,196.7 L562.4,200.5 L563.9,203.5 L565.5,206.1 L567.0,209.9 L568.5,213.1 L570.1,217.1 L571.6,220.2 L573.1,224.6 L574.7,227.7 L576.2,230.7 L577.7,233.4 L579.3,236.8 L580.8,239.0 L582.3,241.1 L583.9,242.6 L585.4,245.0 L586.3,247.0" stroke="#000" stroke-width="1.0"/>
</g>
<path d="M27.5,173.3 H587.2" stroke="#909090" stroke-width="0.85" fill="none"/>
<path d="M263.4,26.5 V366.3" stroke="#ff5555" stroke-width="0.7" fill="none"/>
<path d="M27.1,366.9 V27.1 H587.2 V366.9" fill="none" stroke="#c4c4c4" stroke-width="1.7"/>
<path d="M26.25,366.3 H588.05" stroke="#a0a0a0" stroke-width="1.25" fill="none"/>
<path d="M27.55,41.0 V353.0" stroke="#a8a8a8" stroke-width="1.0" fill="none"/>
<path d="M102.5,366.9 v3.1 M179.1,366.9 v3.1 M255.8,366.9 v3.1 M332.4,366.9 v3.1 M409.1,366.9 v3.1 M485.8,366.9 v3.1 M562.4,366.9 v3.1 M26.9,353.0 h-3.1 M26.9,275.0 h-3.1 M26.9,197.0 h-3.1 M26.9,119.0 h-3.1 M26.9,41.0 h-3.1" stroke="#6c6c6c" stroke-width="0.9" fill="none"/>
<g font-family="Liberation Sans, Arial, sans-serif" font-size="5.6" fill="#111" text-anchor="middle" stroke="#111" stroke-width="0.12">
<text x="102.5" y="378.2">50</text>
<text x="179.1" y="378.2">100</text>
<text x="255.8" y="378.2">150</text>
<text x="332.4" y="378.2">200</text>
<text x="409.1" y="378.2">250</text>
<text x="485.8" y="378.2">300</text>
<text x="562.4" y="378.2">350</text>
<text transform="translate(19.3,353.0) rotate(-90)">0</text>
<text transform="translate(19.3,275.0) rotate(-90)">5</text>
<text transform="translate(19.3,197.0) rotate(-90)">10</text>
<text transform="translate(19.3,119.0) rotate(-90)">15</text>
<text transform="translate(19.3,41.0) rotate(-90)">20</text>
<text x="306.9" y="392.1" font-size="5.5" stroke="#111" stroke-width="0.2">Julian Day</text>
<text transform="translate(6.4,196.3) rotate(-90)" font-size="5.45">Millions sq. km.</text>
</g>
<text font-family="Liberation Sans, Arial, sans-serif" font-size="5.3" fill="#111" x="0" y="392.5">http://sunshinehours.wordpress.com</text>
<text font-family="Liberation Sans, Arial, sans-serif" font-size="11" fill="#111" x="194.7" y="11.6">JAXA Antarctic Ice Extent - as of 2016-155</text>
<rect x="27.7" y="260.2" width="33.7" height="106.30000000000001" fill="none" stroke="#a4a4a4" stroke-width="1.0"/>
<g font-family="Liberation Sans, Arial, sans-serif" font-size="5.8" fill="#222">
<path d="M32.2,266.9 H41.6" stroke="#ff0000" stroke-width="2.9" fill="none" stroke-linecap="round"/>
<text x="47.1" y="269.0" textLength="12" lengthAdjust="spacingAndGlyphs">2016</text>
<path d="M32.2,273.5 H41.6" stroke="#ffa500" stroke-width="1.0" fill="none" stroke-linecap="round"/>
<text x="47.1" y="275.6" textLength="12" lengthAdjust="spacingAndGlyphs">2015</text>
<path d="M32.2,280.2 H41.6" stroke="#1a1aff" stroke-width="1.0" fill="none" stroke-linecap="round"/>
<text x="47.1" y="282.3" textLength="12" lengthAdjust="spacingAndGlyphs">2014</text>
<path d="M32.2,286.8 H41.6" stroke="#00e000" stroke-width="1.0" fill="none" stroke-linecap="round"/>
<text x="47.1" y="288.9" textLength="12" lengthAdjust="spacingAndGlyphs">2013</text>
<path d="M32.2,293.5 H41.6" stroke="#a020f0" stroke-width="1.0" fill="none" stroke-linecap="round"/>
<text x="47.1" y="295.6" textLength="12" lengthAdjust="spacingAndGlyphs">2012</text>
<path d="M32.2,300.1 H41.6" stroke="#add8e6" stroke-width="1.0" fill="none" stroke-linecap="round"/>
<text x="47.1" y="302.2" textLength="12" lengthAdjust="spacingAndGlyphs">2011</text>
<path d="M32.2,306.8 H41.6" stroke="#ffc0cb" stroke-width="1.0" fill="none" stroke-linecap="round"/>
<text x="47.1" y="308.9" textLength="12" lengthAdjust="spacingAndGlyphs">2010</text>
<path d="M32.2,313.4 H41.6" stroke="#ffff00" stroke-width="1.0" fill="none" stroke-linecap="round"/>
<text x="47.1" y="315.6" textLength="12" lengthAdjust="spacingAndGlyphs">2009</text>
<path d="M32.2,320.1 H41.6" stroke="#ffa500" stroke-width="1.0" fill="none" stroke-linecap="round"/>
<text x="47.1" y="322.2" textLength="12" lengthAdjust="spacingAndGlyphs">2008</text>
<path d="M32.2,326.8 H41.6" stroke="#a52a2a" stroke-width="1.0" fill="none" stroke-linecap="round"/>
<text x="47.1" y="328.9" textLength="12" lengthAdjust="spacingAndGlyphs">2007</text>
<path d="M32.2,333.4 H41.6" stroke="#000" stroke-width="1.0" fill="none" stroke-linecap="round"/>
<text x="47.1" y="335.5" textLength="12" lengthAdjust="spacingAndGlyphs">2006</text>
<path d="M32.2,340.0 H41.6" stroke="#000" stroke-width="1.0" fill="none" stroke-linecap="round"/>
<text x="47.1" y="342.1" textLength="12" lengthAdjust="spacingAndGlyphs">2005</text>
<path d="M32.2,346.7 H41.6" stroke="#000" stroke-width="1.0" fill="none" stroke-linecap="round"/>
<text x="47.1" y="348.8" textLength="12" lengthAdjust="spacingAndGlyphs">2004</text>
<path d="M32.2,353.3 H41.6" stroke="#000" stroke-width="1.0" fill="none" stroke-linecap="round"/>
<text x="47.1" y="355.4" textLength="12" lengthAdjust="spacingAndGlyphs">2003</text>
<path d="M32.2,360.0 H41.6" stroke="#000" stroke-width="1.0" fill="none" stroke-linecap="round"/>
<text x="47.1" y="362.1" textLength="12" lengthAdjust="spacingAndGlyphs">2002</text>
</g>
</svg>
</body></html>
